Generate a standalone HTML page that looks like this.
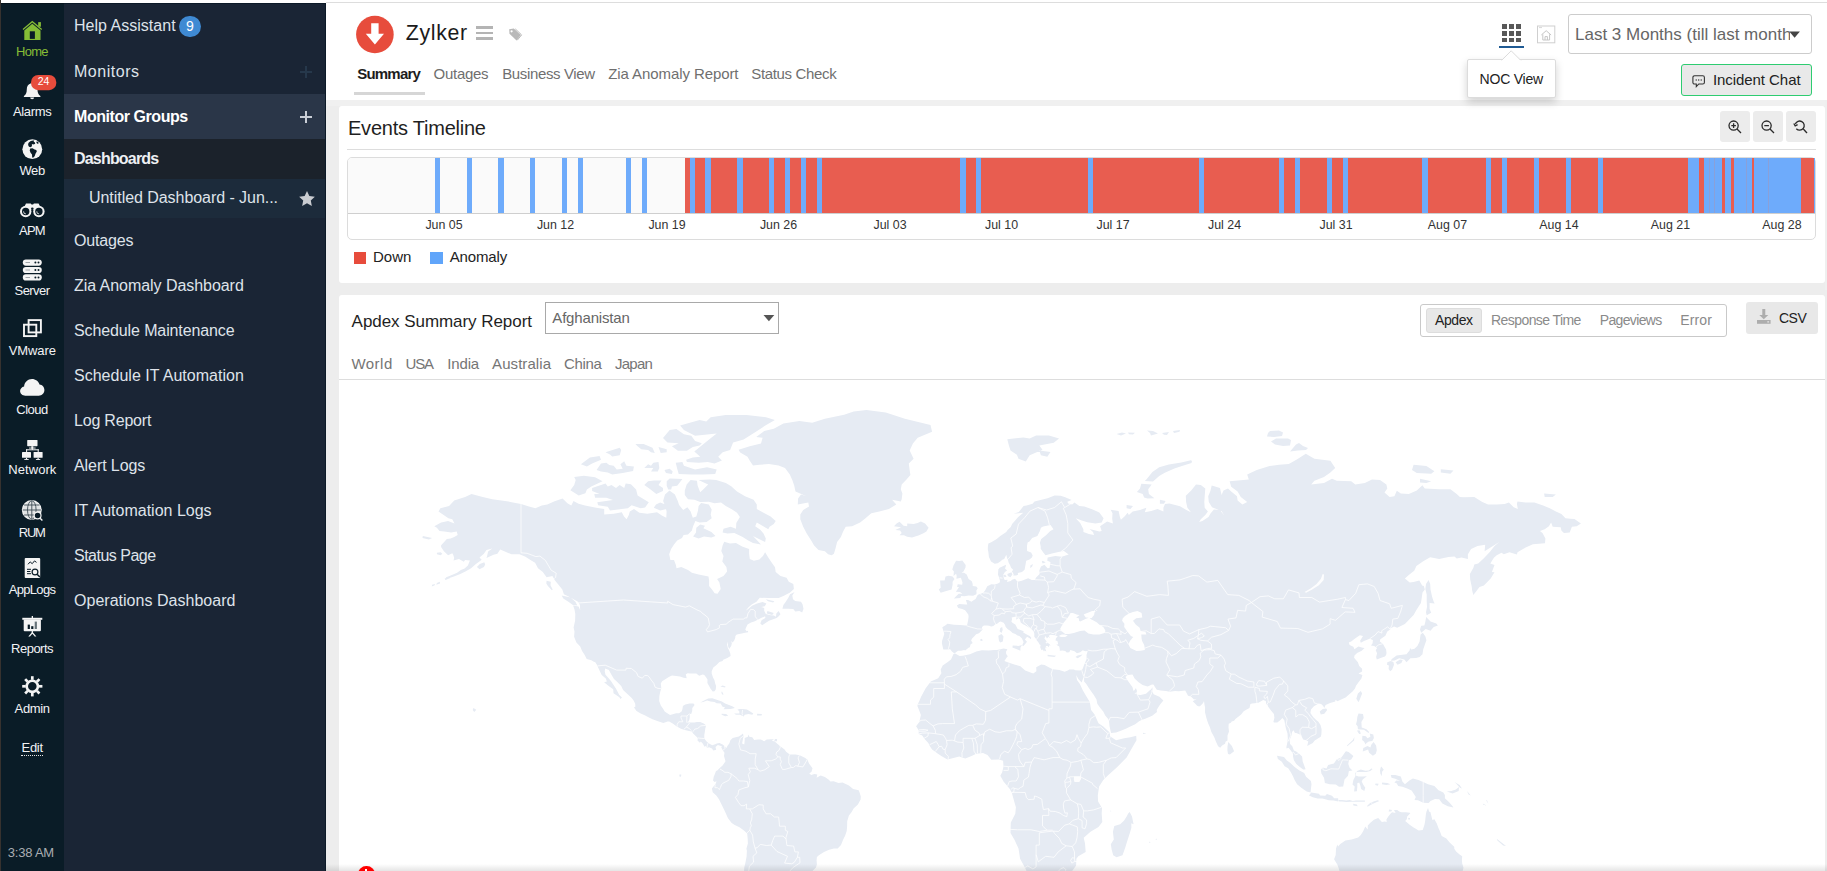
<!DOCTYPE html>
<html><head><meta charset="utf-8"><title>Zylker - Summary</title>
<style>
html,body{margin:0;padding:0;}
body{width:1827px;height:871px;overflow:hidden;position:relative;background:#ededed;font-family:"Liberation Sans",sans-serif;}
.a{position:absolute;box-sizing:border-box;}
.t{position:absolute;white-space:nowrap;font-family:"Liberation Sans",sans-serif;}
svg{position:absolute;overflow:visible;}
</style></head><body>
<div class="a" style="left:0px;top:0px;width:1827px;height:3px;background:#ffffff;"></div>
<div class="a" style="left:326px;top:2px;width:1501px;height:1px;background:#dddddd;"></div>
<div class="a" style="left:326px;top:3px;width:1501px;height:97px;background:#ffffff;"></div>
<div class="a" style="left:0px;top:0px;width:1px;height:871px;background:#37322f;"></div>
<div class="a" style="left:1px;top:3px;width:63px;height:868px;background:#0a1c27;"></div>
<div class="a" style="left:64px;top:3px;width:262px;height:868px;background:#1a2535;border-top:1px solid #0c1a28;border-right:1px solid #0c1a28;"></div>
<div class="a" style="left:1px;top:3px;width:63px;height:1px;background:#06141d;"></div>
<div class="a" style="left:64px;top:94px;width:261px;height:45px;background:#2a3648;"></div>
<div class="a" style="left:64px;top:139px;width:261px;height:40px;background:#1b222b;"></div>
<div class="a" style="left:64px;top:179px;width:261px;height:39px;background:#1c2b3b;"></div>
<span class="t" style="left:74.00px;top:14.76px;font-size:16px;line-height:21px;color:#dfe3ea;letter-spacing:0.017px;">Help Assistant</span>
<div class="a" style="left:179px;top:15.5px;width:21.5px;height:21.5px;border-radius:50%;background:#3f8ad3;"></div>
<span class="t" style="left:185.91px;top:17.45px;font-size:14px;line-height:18px;color:#ffffff;">9</span>
<span class="t" style="left:74.00px;top:60.96px;font-size:16px;line-height:21px;color:#dfe3ea;letter-spacing:0.520px;">Monitors</span>
<svg style="left:300px;top:66px" width="12" height="12"><path d="M6 0v12M0 6h12" stroke="#26384b" stroke-width="2" fill="none"/></svg>
<span class="t" style="left:74.00px;top:105.96px;font-size:16px;line-height:21px;color:#ffffff;letter-spacing:-0.445px;font-weight:bold;">Monitor Groups</span>
<svg style="left:300px;top:111px" width="12" height="12"><path d="M6 0v12M0 6h12" stroke="#c9ced6" stroke-width="2" fill="none"/></svg>
<span class="t" style="left:74.00px;top:147.66px;font-size:16px;line-height:21px;color:#eef0f3;letter-spacing:-0.807px;font-weight:bold;">Dashboards</span>
<span class="t" style="left:89.00px;top:186.86px;font-size:16px;line-height:21px;color:#dfe3ea;letter-spacing:-0.051px;">Untitled Dashboard - Jun...</span>
<svg style="left:299px;top:191px" width="16" height="15" viewBox="0 0 16 15"><path d="M8 0l2.35 5.1 5.5.65-4.07 3.78 1.08 5.47L8 12.3 3.14 15l1.08-5.47L.15 5.75l5.5-.65z" fill="#c9ccd1"/></svg>
<span class="t" style="left:74.00px;top:229.96px;font-size:16px;line-height:21px;color:#dfe3ea;letter-spacing:-0.180px;">Outages</span>
<span class="t" style="left:74.00px;top:274.96px;font-size:16px;line-height:21px;color:#dfe3ea;letter-spacing:-0.048px;">Zia Anomaly Dashboard</span>
<span class="t" style="left:74.00px;top:319.96px;font-size:16px;line-height:21px;color:#dfe3ea;letter-spacing:-0.115px;">Schedule Maintenance</span>
<span class="t" style="left:74.00px;top:364.96px;font-size:16px;line-height:21px;color:#dfe3ea;letter-spacing:0.010px;">Schedule IT Automation</span>
<span class="t" style="left:74.00px;top:409.96px;font-size:16px;line-height:21px;color:#dfe3ea;letter-spacing:-0.196px;">Log Report</span>
<span class="t" style="left:74.00px;top:454.96px;font-size:16px;line-height:21px;color:#dfe3ea;letter-spacing:-0.081px;">Alert Logs</span>
<span class="t" style="left:74.00px;top:499.96px;font-size:16px;line-height:21px;color:#dfe3ea;letter-spacing:0.002px;">IT Automation Logs</span>
<span class="t" style="left:74.00px;top:544.96px;font-size:16px;line-height:21px;color:#dfe3ea;letter-spacing:-0.507px;">Status Page</span>
<span class="t" style="left:74.00px;top:589.96px;font-size:16px;line-height:21px;color:#dfe3ea;letter-spacing:0.021px;">Operations Dashboard</span>
<span class="t" style="left:16.10px;top:43.00px;font-size:13px;line-height:17px;color:#86bd36;letter-spacing:-0.761px;">Home</span>
<span class="t" style="left:12.90px;top:102.70px;font-size:13px;line-height:17px;color:#f2f3f5;letter-spacing:-0.329px;">Alarms</span>
<span class="t" style="left:19.45px;top:161.60px;font-size:13px;line-height:17px;color:#f2f3f5;letter-spacing:-0.397px;">Web</span>
<span class="t" style="left:18.90px;top:221.60px;font-size:13px;line-height:17px;color:#f2f3f5;letter-spacing:-0.685px;">APM</span>
<span class="t" style="left:14.55px;top:281.90px;font-size:13px;line-height:17px;color:#f2f3f5;letter-spacing:-0.557px;">Server</span>
<span class="t" style="left:8.65px;top:341.60px;font-size:13px;line-height:17px;color:#f2f3f5;letter-spacing:-0.077px;">VMware</span>
<span class="t" style="left:16.25px;top:400.50px;font-size:13px;line-height:17px;color:#f2f3f5;letter-spacing:-0.467px;">Cloud</span>
<span class="t" style="left:8.25px;top:460.70px;font-size:13px;line-height:17px;color:#f2f3f5;letter-spacing:0.065px;">Network</span>
<span class="t" style="left:18.65px;top:523.70px;font-size:13px;line-height:17px;color:#f2f3f5;letter-spacing:-1.150px;">RUM</span>
<span class="t" style="left:8.65px;top:580.70px;font-size:13px;line-height:17px;color:#f2f3f5;letter-spacing:-0.671px;">AppLogs</span>
<span class="t" style="left:11.05px;top:640.00px;font-size:13px;line-height:17px;color:#f2f3f5;letter-spacing:-0.502px;">Reports</span>
<span class="t" style="left:14.55px;top:699.70px;font-size:13px;line-height:17px;color:#f2f3f5;letter-spacing:-0.339px;">Admin</span>
<span class="t" style="left:21.55px;top:738.70px;font-size:13px;line-height:17px;color:#f2f3f5;letter-spacing:-0.300px;">Edit</span>
<div class="a" style="left:21px;top:755px;width:22px;height:0;border-top:1px dotted #e6e6e6;"></div>
<span class="t" style="left:7.80px;top:844.00px;font-size:13px;line-height:17px;color:#a9adb2;letter-spacing:-0.216px;">3:38 AM</span>
<svg style="left:0;top:0" width="64" height="871" viewBox="0 0 64 871">
<!-- home -->
<g fill="#86bd36" stroke="none">
<path d="M22.6 28.9 L32.3 20.7 L42.1 28.9 L41.3 29.9 L32.3 22.4 L23.4 29.9 Z"/>
<path d="M24.3 30.4 L32.3 23.8 L40.5 30.4 V40 H24.3 Z"/>
<rect x="38.2" y="22.1" width="2.7" height="4.6"/>
<rect x="29.8" y="31.3" width="5.1" height="7.6" fill="#0a1c27"/>
</g>
<!-- bell -->
<g fill="#f4f4f4">
<path d="M32.1 82.3c.9 0 1.4.6 1.4 1.3 2.6.7 4 2.9 4 5.6 0 3.600 1 5.400 2.900 6.900v.8H23.900v-.8c1.900-1.500 2.900-3.300 2.900-6.900 0-2.700 1.400-4.900 4-5.600 0-.7.500-1.300 1.300-1.300z"/>
<path d="M30.200 97.500h3.900c0 1-.9 1.700-1.950 1.700s-1.950-.7-1.950-1.700z"/>
</g>
<rect x="31" y="75" width="25.300" height="15.200" rx="7.200" fill="#e74c3c"/>
<!-- web globe -->
<circle cx="32.3" cy="149.2" r="9.900" fill="#f4f4f4"/>
<g fill="#0a1c27">
<path d="M30.300 141.200c1.300-.5 2.600-.7 3.900-.5l-.6 1.300 1.300.2.300 1.500-1.600.8-.9-.6-1 .9.400 1.300-1.400 1.100-1.700-.4-.9-1.900.3-1.900z"/>
<path d="M36.800 141.300l1.600.9.200 1.200-1.300.3-.9-1z"/>
<path d="M30.200 148.600l2.300-.4 2.100 1.300 1.700.4.500 1.700-1.200 1.900-1 2.700-1.500 1.600-.9-.3-.2-2.900-1.400-1.900-.9-2.300z"/>
</g>
<!-- apm binoculars -->
<g>
<path d="M26.000 203.400h4.700l.8 1h1.600l.8-1h4.700l3.300 6.500H22.700z" fill="#f4f4f4"/>
<circle cx="25.700" cy="211.500" r="5.700" fill="#f4f4f4"/><circle cx="38.900" cy="211.500" r="5.700" fill="#f4f4f4"/>
<circle cx="25.700" cy="211.500" r="3.700" fill="#0a1c27"/><circle cx="38.900" cy="211.500" r="3.700" fill="#0a1c27"/>
<circle cx="32.300" cy="208.700" r="1.300" fill="#0a1c27"/>
<path d="M23.600 211.300a2.300 2.300 0 0 0 2.300 2.600" stroke="#f4f4f4" stroke-width=".8" fill="none"/>
<path d="M36.800 211.300a2.300 2.300 0 0 0 2.300 2.600" stroke="#f4f4f4" stroke-width=".8" fill="none"/>
</g>
<!-- server -->
<g fill="#f4f4f4">
<rect x="22.800" y="259.500" width="19" height="6.200" rx="3.100"/><rect x="22.800" y="266.900" width="19" height="6.200" rx="3.100"/><rect x="22.800" y="274.300" width="19" height="6.200" rx="3.100"/>
</g>
<g fill="#0a1c27">
<circle cx="35.400" cy="262.600" r="1"/><circle cx="38.500" cy="262.600" r="1"/><rect x="25.500" y="262.200" width="4.500" height=".8" opacity=".45"/>
<circle cx="35.400" cy="270" r="1"/><circle cx="38.500" cy="270" r="1"/><rect x="25.500" y="269.600" width="4.500" height=".8" opacity=".45"/>
<circle cx="35.400" cy="277.400" r="1"/><circle cx="38.500" cy="277.400" r="1"/><rect x="25.500" y="277" width="4.500" height=".8" opacity=".45"/>
</g>
<!-- vmware -->
<g fill="none" stroke="#f4f4f4" stroke-width="1.900">
<rect x="28.600" y="320.100" width="12.300" height="12.300"/>
<rect x="24" y="324.700" width="12.300" height="11.400"/>
</g>
<!-- cloud -->
<path d="M25.300 395.800c-2.900 0-5.200-2.100-5.200-4.700 0-2.300 1.700-4.100 4-4.600.3-4.100 3.700-7.400 7.900-7.400 3.500 0 6.500 2.300 7.500 5.500 2.800.3 4.900 2.600 4.900 5.500 0 3.100-2.500 5.700-5.700 5.700z" fill="#f4f4f4"/>
<!-- network -->
<g fill="#f4f4f4">
<rect x="27.200" y="440" width="10.300" height="6.200" rx=".6"/>
<rect x="31.300" y="446.200" width="2" height="2.500"/><rect x="29" y="447.600" width="6.600" height=".9"/>
<rect x="26.100" y="449.300" width="12.600" height="1"/><rect x="26.100" y="449.300" width="1" height="2.700"/><rect x="37.700" y="449.300" width="1" height="2.700"/><rect x="31.800" y="448" width="1" height="2"/>
<rect x="22" y="452" width="9" height="5.800" rx=".6"/><rect x="33.600" y="452" width="9" height="5.800" rx=".6"/>
<rect x="25.900" y="457.800" width="1.200" height="1.500"/><rect x="24.300" y="459" width="4.400" height=".9"/>
<rect x="37.500" y="457.800" width="1.200" height="1.500"/><rect x="35.900" y="459" width="4.400" height=".9"/>
</g>
<!-- rum -->
<g fill="none" stroke="#f4f4f4" stroke-width="1.300">
<circle cx="31.800" cy="510" r="9.300" fill="#f4f4f4" fill-opacity=".92"/>
</g>
<g fill="none" stroke="#0a1c27" stroke-width=".9" opacity=".75">
<ellipse cx="31.800" cy="510" rx="4.300" ry="9.300"/><path d="M31.800 500.700v18.600M22.700 510h18.200M24 505h15.600M24 515h15.600"/>
</g>
<circle cx="37.600" cy="515.500" r="3.400" fill="#0a1c27" stroke="#f4f4f4" stroke-width="1.200"/>
<path d="M40.100 518.200l2.300 2.300" stroke="#f4f4f4" stroke-width="1.400"/>
<!-- applogs -->
<rect x="24.700" y="558" width="15.500" height="20" rx="1" fill="#f4f4f4"/>
<g fill="none" stroke="#0a1c27" stroke-width="1">
<path d="M28 564.300l2.200-2.400 2 1.800 2.300-2.800 2 1.500"/>
<path d="M27 569.300h4M27 571.500h3.400M27 573.700h4"/>
<circle cx="35" cy="572" r="2.900" stroke-width="1.200"/><path d="M37.100 574.200l2.800 2.900" stroke-width="1.500"/>
</g>
<!-- reports -->
<g fill="#f4f4f4">
<rect x="22.300" y="617.800" width="20" height="2"/><rect x="31.700" y="616" width="1.300" height="2.200"/>
<rect x="23.700" y="619.500" width="17.200" height="11.700" rx="1"/>
<rect x="31.700" y="631" width="1.300" height="2.500"/>
<path d="M28.300 636.600l3.600-4.300h.9l3.600 4.300h-1.700l-2.350-2.900-2.350 2.900z"/>
</g>
<g fill="#0a1c27"><rect x="27.700" y="624.600" width="2.200" height="4.400"/><rect x="31.200" y="626.200" width="2.200" height="2.800"/><rect x="34.700" y="621.600" width="2.200" height="7.400" opacity=".6"/></g>
<!-- admin gear -->
<g transform="translate(32.300 686.300)">
<circle r="5.600" fill="none" stroke="#f4f4f4" stroke-width="2.600"/>
<g stroke="#f4f4f4" stroke-width="2.700" stroke-linecap="butt">
<path d="M0 -6.500V-10.100"/><path d="M0 6.500V10.100"/><path d="M-6.500 0H-10.100"/><path d="M6.500 0H10.100"/>
<path d="M4.600 -4.600L7.150 -7.150"/><path d="M-4.600 -4.600L-7.150 -7.150"/><path d="M4.600 4.600L7.150 7.150"/><path d="M-4.600 4.600L-7.150 7.150"/>
</g></g>
</svg>
<span class="t" style="left:37.76px;top:74.46px;font-size:10.5px;line-height:14px;color:#ffffff;">24</span>
<svg style="left:355px;top:15px" width="40" height="40" viewBox="0 0 40 40">
<circle cx="19.900" cy="19.500" r="18.800" fill="#e74c3c"/>
<path d="M16.200 8.200h7.400v10.600h5.400L19.900 29.600 10.800 18.800h5.400z" fill="#ffffff"/></svg>
<span class="t" style="left:405.80px;top:18.82px;font-size:21.3px;line-height:28px;color:#1b1b1b;letter-spacing:0.664px;">Zylker</span>
<div class="a" style="left:476px;top:26px;width:17px;height:2.7px;background:#b4b4b4;"></div>
<div class="a" style="left:476px;top:31.5px;width:17px;height:2.7px;background:#b4b4b4;"></div>
<div class="a" style="left:476px;top:37px;width:17px;height:2.7px;background:#b4b4b4;"></div>
<svg style="left:508px;top:27px" width="15" height="15" viewBox="0 0 15 15">
<path d="M1.200 2.300l4.600-.9 7 6.700-4.300 5.300-7-6.700z" fill="#b9b9b9"/>
<path d="M7.300 1.900l6.300 6-4.300 5.300" fill="none" stroke="#b9b9b9" stroke-width="1"/>
<circle cx="3.600" cy="4.300" r="1.100" fill="#ffffff"/></svg>
<span class="t" style="left:357.20px;top:63.60px;font-size:15px;line-height:20px;color:#1d1d1d;letter-spacing:-0.778px;font-weight:bold;">Summary</span>
<span class="t" style="left:433.60px;top:63.60px;font-size:15px;line-height:20px;color:#6f6f6f;letter-spacing:-0.283px;">Outages</span>
<span class="t" style="left:502.20px;top:63.60px;font-size:15px;line-height:20px;color:#6f6f6f;letter-spacing:-0.360px;">Business View</span>
<span class="t" style="left:608.20px;top:63.60px;font-size:15px;line-height:20px;color:#6f6f6f;letter-spacing:-0.084px;">Zia Anomaly Report</span>
<span class="t" style="left:751.30px;top:63.60px;font-size:15px;line-height:20px;color:#6f6f6f;letter-spacing:-0.349px;">Status Check</span>
<div class="a" style="left:354px;top:92px;width:71px;height:3px;background:#d6d6d6;"></div>
<div class="a" style="left:1501.5px;top:24.3px;width:5px;height:4.8px;background:#585858;"></div>
<div class="a" style="left:1508.5px;top:24.3px;width:5px;height:4.8px;background:#585858;"></div>
<div class="a" style="left:1515.5px;top:24.3px;width:5px;height:4.8px;background:#585858;"></div>
<div class="a" style="left:1501.5px;top:31.0px;width:5px;height:4.8px;background:#585858;"></div>
<div class="a" style="left:1508.5px;top:31.0px;width:5px;height:4.8px;background:#585858;"></div>
<div class="a" style="left:1515.5px;top:31.0px;width:5px;height:4.8px;background:#585858;"></div>
<div class="a" style="left:1501.5px;top:37.7px;width:5px;height:4.8px;background:#585858;"></div>
<div class="a" style="left:1508.5px;top:37.7px;width:5px;height:4.8px;background:#585858;"></div>
<div class="a" style="left:1515.5px;top:37.7px;width:5px;height:4.8px;background:#585858;"></div>
<div class="a" style="left:1498.7px;top:46px;width:25px;height:2px;background:#1f5a93;"></div>
<svg style="left:1537px;top:25px" width="19" height="19" viewBox="0 0 19 19">
<rect x=".5" y="1" width="17.300" height="16.800" fill="#ffffff" stroke="#cfcfcf" stroke-width="1"/>
<path d="M2 2.600h3" stroke="#d8d8d8" stroke-width="1"/>
<path d="M4.300 10l4.900-4.300 4.900 4.300M5.800 9.300v5.700h6.800V9.300M8 15v-3.400h2.400V15" fill="none" stroke="#c6c6c6" stroke-width="1"/></svg>
<div class="a" style="left:1568px;top:14px;width:244px;height:40px;background:#ffffff;border:1px solid #cccccc;border-radius:3px;"></div>
<div class="a" style="left:1575px;top:20px;width:214.600px;height:30px;overflow:hidden;"><span class="t" style="left:0;top:0;font-size:17px;line-height:30px;color:#666666;letter-spacing:0px;">Last 3 Months (till last month)</span></div>
<svg style="left:1789px;top:31px" width="12" height="8"><path d="M.3.600h10.600L5.600 6.800z" fill="#444444"/></svg>
<div class="a" style="left:1467px;top:59px;width:88.500px;height:39px;background:#fff;border:1px solid #dcdcdc;border-radius:2px;box-shadow:0 4px 8px rgba(0,0,0,.18);z-index:5;"></div>
<svg style="left:1500px;top:49px;z-index:6" width="24" height="13" viewBox="0 0 24 13"><path d="M1.500 11.500L11.200 1.800 20.900 11.500" fill="#ffffff" stroke="#dcdcdc" stroke-width="1"/><path d="M1.500 12.300h19.400" stroke="#ffffff" stroke-width="2"/></svg>
<span class="t" style="left:1479.60px;top:70.25px;font-size:14px;line-height:18px;color:#222222;letter-spacing:-0.218px;z-index:7;">NOC View</span>
<div class="a" style="left:1681px;top:64px;width:131px;height:32px;background:#e9e9e9;border:1px solid #2ecc71;border-radius:3px;"></div>
<svg style="left:1692px;top:75px" width="14" height="13" viewBox="0 0 14 13"><path d="M2.500.800h8.300c.9 0 1.600.7 1.600 1.600v5c0 .9-.7 1.600-1.600 1.600H6.800L4.300 11.700V9H2.500C1.600 9 .9 8.300.9 7.400v-5c0-.9.700-1.600 1.600-1.600z" fill="none" stroke="#333" stroke-width="1.100"/><circle cx="4.200" cy="5" r=".7" fill="#333"/><circle cx="6.700" cy="5" r=".7" fill="#333"/><circle cx="9.200" cy="5" r=".7" fill="#333"/></svg>
<span class="t" style="left:1712.90px;top:69.50px;font-size:15px;line-height:20px;color:#222222;letter-spacing:-0.058px;">Incident Chat</span>
<div class="a" style="left:326px;top:100px;width:1501px;height:6px;background:#f0f0f0;"></div>
<div class="a" style="left:1825px;top:100px;width:2px;height:190px;background:#efefef;"></div>
<div class="a" style="left:339px;top:106px;width:1486px;height:177px;background:#ffffff;border-radius:3px;"></div>
<span class="t" style="left:348.00px;top:114.97px;font-size:20px;line-height:26px;color:#1f1f1f;letter-spacing:-0.227px;">Events Timeline</span>
<div class="a" style="left:347px;top:149px;width:1469px;height:1px;background:#dddddd;"></div>
<div class="a" style="left:1720px;top:111px;width:30px;height:30.5px;background:#ececec;border-radius:3px;"></div>
<div class="a" style="left:1753px;top:111px;width:30px;height:30.5px;background:#ececec;border-radius:3px;"></div>
<div class="a" style="left:1786px;top:111px;width:30px;height:30.5px;background:#ececec;border-radius:3px;"></div>
<svg style="left:1727px;top:119px" width="16" height="16"><circle cx="6.600" cy="6.600" r="4.600" stroke="#2a2a2a" stroke-width="1.300" fill="none"/><path d="M10 10l4 4M4.300 6.600h4.600M6.600 4.300v4.600" stroke="#2a2a2a" stroke-width="1.300" fill="none"/></svg>
<svg style="left:1760px;top:119px" width="16" height="16"><circle cx="6.600" cy="6.600" r="4.600" stroke="#2a2a2a" stroke-width="1.300" fill="none"/><path d="M10 10l4 4M4.300 6.600h4.600" stroke="#2a2a2a" stroke-width="1.300" fill="none"/></svg>
<svg style="left:1793px;top:119px" width="16" height="16"><path d="M3.300 9.800A4.600 4.600 0 1 0 2.300 5" stroke="#2a2a2a" stroke-width="1.300" fill="none"/><path d="M.8 4.500l1.400 2.300 2.400-1.200" stroke="#2a2a2a" stroke-width="1.300" fill="none"/><path d="M10.300 10l3.700 4" stroke="#2a2a2a" stroke-width="1.300" fill="none"/></svg>
<div class="a" style="left:347px;top:157px;width:1469px;height:82.5px;background:#ffffff;border:1px solid #dcdcdc;border-radius:5px;"></div>
<div class="a" style="left:348px;top:158px;width:1467px;height:54.5px;background:#fafafa;border-radius:4px 4px 0 0;"></div>
<div class="a" style="left:348px;top:212.5px;width:1467px;height:1px;background:#cfcfcf;"></div>
<div class="a" style="left:685px;top:158px;width:1130px;height:54.8px;background:#e85d50;"></div>
<div class="a" style="left:434.6px;top:158px;width:5.3px;height:54.8px;background:#6eabfb;"></div>
<div class="a" style="left:466.5px;top:158px;width:5.3px;height:54.8px;background:#6eabfb;"></div>
<div class="a" style="left:498.3px;top:158px;width:5.3px;height:54.8px;background:#6eabfb;"></div>
<div class="a" style="left:530.2px;top:158px;width:5.3px;height:54.8px;background:#6eabfb;"></div>
<div class="a" style="left:562.0px;top:158px;width:5.3px;height:54.8px;background:#6eabfb;"></div>
<div class="a" style="left:578.0px;top:158px;width:5.3px;height:54.8px;background:#6eabfb;"></div>
<div class="a" style="left:625.8px;top:158px;width:5.3px;height:54.8px;background:#6eabfb;"></div>
<div class="a" style="left:641.7px;top:158px;width:5.3px;height:54.8px;background:#6eabfb;"></div>
<div class="a" style="left:689.5px;top:158px;width:5.3px;height:54.8px;background:#6eabfb;"></div>
<div class="a" style="left:705.4px;top:158px;width:5.3px;height:54.8px;background:#6eabfb;"></div>
<div class="a" style="left:737.3px;top:158px;width:5.3px;height:54.8px;background:#6eabfb;"></div>
<div class="a" style="left:769.1px;top:158px;width:5.3px;height:54.8px;background:#6eabfb;"></div>
<div class="a" style="left:785.1px;top:158px;width:5.3px;height:54.8px;background:#6eabfb;"></div>
<div class="a" style="left:801.0px;top:158px;width:5.3px;height:54.8px;background:#6eabfb;"></div>
<div class="a" style="left:816.9px;top:158px;width:5.3px;height:54.8px;background:#6eabfb;"></div>
<div class="a" style="left:960.3px;top:158px;width:5.3px;height:54.8px;background:#6eabfb;"></div>
<div class="a" style="left:976.2px;top:158px;width:5.3px;height:54.8px;background:#6eabfb;"></div>
<div class="a" style="left:1087.7px;top:158px;width:5.3px;height:54.8px;background:#6eabfb;"></div>
<div class="a" style="left:1199.2px;top:158px;width:5.3px;height:54.8px;background:#6eabfb;"></div>
<div class="a" style="left:1278.9px;top:158px;width:5.3px;height:54.8px;background:#6eabfb;"></div>
<div class="a" style="left:1294.8px;top:158px;width:5.3px;height:54.8px;background:#6eabfb;"></div>
<div class="a" style="left:1326.7px;top:158px;width:5.3px;height:54.8px;background:#6eabfb;"></div>
<div class="a" style="left:1342.6px;top:158px;width:5.3px;height:54.8px;background:#6eabfb;"></div>
<div class="a" style="left:1422.3px;top:158px;width:5.3px;height:54.8px;background:#6eabfb;"></div>
<div class="a" style="left:1486.0px;top:158px;width:5.3px;height:54.8px;background:#6eabfb;"></div>
<div class="a" style="left:1501.9px;top:158px;width:5.3px;height:54.8px;background:#6eabfb;"></div>
<div class="a" style="left:1533.8px;top:158px;width:5.3px;height:54.8px;background:#6eabfb;"></div>
<div class="a" style="left:1565.6px;top:158px;width:5.3px;height:54.8px;background:#6eabfb;"></div>
<div class="a" style="left:1597.5px;top:158px;width:5.3px;height:54.8px;background:#6eabfb;"></div>
<div class="a" style="left:1687.7px;top:158px;width:11.0px;height:54.8px;background:#6eabfb;"></div>
<div class="a" style="left:1703.8px;top:158px;width:18.2px;height:54.8px;background:#6eabfb;"></div>
<div class="a" style="left:1725.3px;top:158px;width:5.6px;height:54.8px;background:#6eabfb;"></div>
<div class="a" style="left:1734.4px;top:158px;width:17.6px;height:54.8px;background:#6eabfb;"></div>
<div class="a" style="left:1754px;top:158px;width:47.3px;height:54.8px;background:#6eabfb;"></div>
<div class="a" style="left:1813.7px;top:158px;width:1.3px;height:54.8px;background:#6eabfb;"></div>
<div class="a" style="left:1708.5px;top:158px;width:0.6px;height:54.8px;background:#8aa0d8;"></div>
<div class="a" style="left:1714.3px;top:158px;width:0.6px;height:54.8px;background:#8aa0d8;"></div>
<div class="a" style="left:1746.3px;top:158px;width:0.6px;height:54.8px;background:#8aa0d8;"></div>
<div class="a" style="left:1767.5px;top:158px;width:0.6px;height:54.8px;background:#8aa0d8;"></div>
<span class="t" style="left:425.39px;top:216.90px;font-size:12.4px;line-height:16px;color:#333333;">Jun 05</span>
<span class="t" style="left:536.89px;top:216.90px;font-size:12.4px;line-height:16px;color:#333333;">Jun 12</span>
<span class="t" style="left:648.39px;top:216.90px;font-size:12.4px;line-height:16px;color:#333333;">Jun 19</span>
<span class="t" style="left:759.89px;top:216.90px;font-size:12.4px;line-height:16px;color:#333333;">Jun 26</span>
<span class="t" style="left:873.46px;top:216.90px;font-size:12.4px;line-height:16px;color:#333333;">Jul 03</span>
<span class="t" style="left:984.96px;top:216.90px;font-size:12.4px;line-height:16px;color:#333333;">Jul 10</span>
<span class="t" style="left:1096.46px;top:216.90px;font-size:12.4px;line-height:16px;color:#333333;">Jul 17</span>
<span class="t" style="left:1207.96px;top:216.90px;font-size:12.4px;line-height:16px;color:#333333;">Jul 24</span>
<span class="t" style="left:1319.46px;top:216.90px;font-size:12.4px;line-height:16px;color:#333333;">Jul 31</span>
<span class="t" style="left:1427.85px;top:216.90px;font-size:12.4px;line-height:16px;color:#333333;">Aug 07</span>
<span class="t" style="left:1539.35px;top:216.90px;font-size:12.4px;line-height:16px;color:#333333;">Aug 14</span>
<span class="t" style="left:1650.85px;top:216.90px;font-size:12.4px;line-height:16px;color:#333333;">Aug 21</span>
<span class="t" style="left:1762.35px;top:216.90px;font-size:12.4px;line-height:16px;color:#333333;">Aug 28</span>
<div class="a" style="left:354px;top:252px;width:12px;height:12px;background:#e74c3c;"></div>
<span class="t" style="left:373.00px;top:246.70px;font-size:15px;line-height:20px;color:#222222;letter-spacing:-0.018px;">Down</span>
<div class="a" style="left:430px;top:252px;width:13px;height:12px;background:#60a5fa;"></div>
<span class="t" style="left:449.70px;top:246.70px;font-size:15px;line-height:20px;color:#222222;letter-spacing:-0.144px;">Anomaly</span>
<div class="a" style="left:339px;top:295px;width:1486px;height:580px;background:#ffffff;border-radius:3px 3px 0 0;"></div>
<span class="t" style="left:351.60px;top:310.71px;font-size:17px;line-height:22px;color:#1f1f1f;letter-spacing:-0.053px;">Apdex Summary Report</span>
<div class="a" style="left:545px;top:302px;width:234px;height:32px;background:#ffffff;border:1px solid #a9a9a9;"></div>
<span class="t" style="left:552.30px;top:307.90px;font-size:15px;line-height:20px;color:#666666;letter-spacing:-0.173px;">Afghanistan</span>
<svg style="left:763px;top:314px" width="12" height="8"><path d="M.5.900h10.800L5.900 7.300z" fill="#555555"/></svg>
<span class="t" style="left:351.40px;top:353.70px;font-size:15px;line-height:20px;color:#757575;letter-spacing:0.501px;">World</span>
<span class="t" style="left:405.60px;top:353.70px;font-size:15px;line-height:20px;color:#757575;letter-spacing:-1.270px;">USA</span>
<span class="t" style="left:447.30px;top:353.70px;font-size:15px;line-height:20px;color:#757575;letter-spacing:-0.159px;">India</span>
<span class="t" style="left:492.10px;top:353.70px;font-size:15px;line-height:20px;color:#757575;letter-spacing:0.065px;">Australia</span>
<span class="t" style="left:563.90px;top:353.70px;font-size:15px;line-height:20px;color:#757575;letter-spacing:-0.303px;">China</span>
<span class="t" style="left:615.00px;top:353.70px;font-size:15px;line-height:20px;color:#757575;letter-spacing:-0.744px;">Japan</span>
<div class="a" style="left:339px;top:379px;width:1486px;height:1px;background:#dddddd;"></div>
<div class="a" style="left:1420px;top:304px;width:307px;height:33px;background:#ffffff;border:1px solid #c9c9c9;border-radius:3px;"></div>
<div class="a" style="left:1426px;top:308.4px;width:56px;height:24.5px;background:#e8e8e8;border:1px solid #dddddd;border-radius:3px;"></div>
<span class="t" style="left:1435.00px;top:310.85px;font-size:14px;line-height:18px;color:#222222;letter-spacing:-0.397px;">Apdex</span>
<span class="t" style="left:1491.10px;top:310.85px;font-size:14px;line-height:18px;color:#8a8a8a;letter-spacing:-0.581px;">Response Time</span>
<span class="t" style="left:1599.80px;top:310.85px;font-size:14px;line-height:18px;color:#8a8a8a;letter-spacing:-0.663px;">Pageviews</span>
<span class="t" style="left:1680.20px;top:310.85px;font-size:14px;line-height:18px;color:#8a8a8a;letter-spacing:0.173px;">Error</span>
<div class="a" style="left:1746px;top:302px;width:72px;height:31.6px;background:#e8e8e8;border-radius:3px;"></div>
<svg style="left:1756px;top:308px" width="16" height="17" viewBox="0 0 16 17"><path d="M6.300 1h3v6h3L7.800 11.300 3.300 7h3z" fill="#adadad"/><path d="M1 12h13.600v3.800H1z" fill="#adadad"/><rect x="11.300" y="13.300" width="1.800" height="1.200" fill="#e8e8e8"/></svg>
<span class="t" style="left:1779.00px;top:309.05px;font-size:14px;line-height:18px;color:#222222;letter-spacing:-0.492px;">CSV</span>
<div class="a" style="left:358px;top:866px;width:16.500px;height:16.500px;border-radius:50%;background:#ff0000;z-index:3"></div>
<div class="a" style="left:365.300px;top:868.500px;width:2px;height:4px;background:#fff;z-index:4"></div>
<div class="a" style="left:326px;top:864px;width:1501px;height:7px;background:linear-gradient(to bottom,rgba(0,0,0,0),rgba(0,0,0,.10));z-index:2"></div>
<svg style="left:0;top:0;z-index:1" width="1827" height="871" viewBox="0 0 1827 871">
<defs><clipPath id="mc"><rect x="339" y="380" width="1486" height="491"/></clipPath></defs>
<g clip-path="url(#mc)">
<path d="M434.3 526.2L441.1 522.5L448.1 520.9L454.5 523.5L452.3 519.3L448.4 518.2L438.5 511.4L440.4 508.3L449.1 506.1L454.2 500.4L465.1 496.9L471.5 494.1L482.7 496.9L492.3 499.2L505.0 500.9L513.0 502.4L521.0 504.1L529.0 506.6L535.4 508.3L541.8 505.5L547.3 504.4L554.6 501.2L562.6 498.6L567.4 503.2L571.3 505.5L573.5 500.9L578.6 503.8L585.0 505.5L596.2 507.7L604.2 508.9L604.2 514.4L613.8 513.8L621.8 512.2L624.0 516.6L626.6 519.3L628.8 514.9L629.8 511.6L634.0 508.9L639.4 512.7L647.4 513.8L657.0 512.2L661.8 515.5L666.3 517.7L666.6 511.6L665.3 506.1L663.1 500.9L665.0 494.5L669.5 490.4L674.9 494.5L677.8 500.9L679.1 504.9L683.2 510.0L687.4 507.2L690.6 511.6L692.8 517.7L696.3 516.6L697.9 511.1L698.6 506.1L701.1 502.9L708.8 504.4L711.7 509.4L710.7 514.4L711.7 518.2L706.6 521.9L699.5 522.5L695.4 521.1L693.1 526.2L691.9 530.4L688.0 534.5L683.6 535.0L682.0 538.0L677.2 540.5L674.0 544.5L671.1 548.9L669.2 554.2L670.4 559.9L674.0 560.1L675.9 565.0L676.5 568.2L681.3 566.9L688.0 570.1L691.9 572.8L698.6 574.6L708.5 576.4L709.1 580.4L709.1 586.0L712.0 589.5L714.6 593.3L717.5 593.8L720.7 589.1L719.4 582.6L717.1 579.0L723.5 575.9L727.1 571.4L726.4 566.9L722.3 561.5L723.5 556.1L721.3 550.9L722.6 545.5L724.2 541.8L729.9 543.5L736.0 543.0L742.1 546.5L749.1 548.9L749.1 553.7L749.8 559.0L753.9 560.8L759.4 559.4L762.9 556.1L765.1 552.3L768.3 557.5L771.8 562.7L775.0 567.3L775.7 571.9L780.5 575.9L786.6 577.7L788.8 581.7L793.3 583.9L793.9 589.1L790.1 592.5L783.4 595.9L778.6 598.0L769.0 598.0L759.7 597.8L756.5 601.7L752.0 604.2L748.8 607.1L745.6 610.7L748.2 609.1L752.0 605.8L757.1 603.4L762.6 602.1L766.4 603.6L764.8 606.2L761.0 607.1L764.2 607.9L764.2 610.7L765.8 613.9L770.6 615.3L773.8 615.5L776.0 616.7L776.3 613.5L778.6 611.1L780.5 614.3L778.2 616.7L776.6 618.1L769.0 620.7L764.8 623.4L762.2 625.2L760.3 623.4L761.6 620.3L765.4 617.9L765.1 616.3L761.0 618.1L757.8 619.7L754.2 621.5L751.0 622.6L747.5 624.4L745.9 628.1L745.3 629.6L746.6 631.2L747.9 630.8L748.2 632.3L745.0 632.7L741.8 633.5L736.7 634.6L735.4 636.1L735.2 638.0L734.1 640.7L732.5 642.4L730.6 640.7L731.9 642.9L731.2 645.9L729.1 649.0L728.0 645.9L728.0 641.4L727.1 644.8L728.0 648.5L729.0 650.0L730.3 653.6L730.6 656.0L727.4 658.0L723.2 659.8L722.6 661.0L719.4 661.9L716.5 665.0L713.3 667.6L711.7 671.2L711.7 673.6L713.0 677.5L714.4 680.1L715.2 683.4L716.1 686.1L715.8 689.3L714.6 691.3L712.7 691.4L710.4 688.5L709.1 686.1L707.4 683.0L707.5 679.6L706.4 677.8L704.3 675.0L702.7 674.5L699.2 675.7L696.3 673.6L692.8 673.5L690.3 673.6L687.7 673.3L685.8 674.3L686.4 677.1L686.7 678.2L683.6 677.8L680.0 676.4L676.2 676.1L672.0 675.6L668.8 677.1L665.3 679.2L662.1 681.3L660.8 683.4L661.3 688.5L660.2 691.9L659.4 696.0L659.2 701.1L660.8 705.4L663.1 708.8L664.7 711.4L666.9 713.1L670.1 714.9L673.6 713.9L676.2 713.2L679.1 713.2L681.6 711.4L682.4 709.3L682.9 705.9L685.3 704.4L689.6 703.6L693.5 703.4L694.6 704.9L692.3 708.1L692.2 711.1L691.2 714.1L689.6 713.7L689.8 717.0L689.3 720.0L687.7 722.5L690.7 722.5L694.4 722.6L697.0 722.0L700.2 722.0L703.7 723.6L706.1 725.3L705.3 728.5L704.8 732.1L704.3 735.0L704.3 738.4L706.6 741.5L709.0 743.6L712.3 745.2L715.2 744.2L716.8 743.4L719.5 743.0L722.6 744.4L724.5 745.9L725.1 748.3L722.9 750.5L721.3 747.6L721.9 746.3L717.8 744.9L715.5 747.0L716.2 749.7L713.3 750.4L712.0 748.6L709.1 747.3L707.0 747.9L705.9 746.0L704.5 746.7L702.7 743.4L700.8 741.5L699.9 742.8L697.5 740.5L697.8 738.6L697.3 737.5L693.1 733.4L691.9 731.5L689.0 731.1L684.7 730.0L681.0 728.8L676.8 726.6L672.7 723.6L669.2 721.5L667.6 721.5L663.4 723.0L658.0 721.3L652.5 719.2L648.0 717.0L645.2 715.6L640.7 713.4L636.5 711.1L634.0 707.4L635.4 706.6L635.2 703.8L633.6 700.4L631.7 698.0L626.6 693.3L623.1 689.9L621.2 686.1L617.3 682.0L614.0 678.9L611.6 675.0L608.9 670.1L605.2 668.5L604.7 671.2L605.5 674.7L608.9 678.4L611.3 681.6L612.9 683.9L615.9 688.5L618.0 692.6L619.1 694.8L622.0 697.4L620.4 699.1L619.4 697.2L613.5 693.3L613.2 689.2L608.7 686.1L604.1 682.2L606.9 681.6L605.8 678.5L601.7 674.9L599.9 671.2L598.1 667.6L597.2 665.2L595.3 662.3L593.3 661.4L591.4 660.3L586.7 658.9L584.7 655.1L582.1 651.1L580.2 646.6L576.4 642.4L574.1 636.7L574.5 631.6L573.6 627.6L575.1 620.7L575.3 614.1L574.5 609.5L573.1 605.5L578.6 606.6L580.2 610.3L579.9 605.0L578.0 601.7L573.5 599.2L568.1 596.3L563.9 594.2L562.3 589.5L558.5 584.7L555.0 580.4L552.4 575.9L546.6 577.3L542.8 571.9L538.0 568.2L535.1 562.7L531.3 560.4L525.0 556.4L519.4 554.2L511.4 554.2L505.4 551.8L500.2 549.4L497.4 553.7L493.5 554.7L486.5 558.0L487.1 555.9L488.1 551.6L492.3 548.4L486.5 549.9L483.9 553.7L479.5 557.5L481.7 559.7L475.3 564.6L471.1 568.2L465.4 571.4L460.3 574.1L453.9 576.4L448.7 578.2L445.2 579.0L446.2 577.3L450.7 575.5L457.1 572.8L460.9 570.1L464.6 568.5L467.9 565.5L469.9 560.4L465.1 559.9L463.8 561.8L459.0 559.0L453.5 560.6L454.2 558.0L453.2 554.7L452.3 553.3L448.1 555.2L443.9 551.3L441.1 547.0L441.1 545.2L444.6 541.5L446.8 539.0L450.7 538.5L454.2 537.0L457.7 535.0L456.7 531.4L451.3 532.4L444.3 531.6L439.5 530.9L436.9 527.8ZM724.5 745.9L726.4 748.1L727.7 745.4L729.3 743.4L730.4 740.2L732.7 738.1L734.7 737.5L738.9 736.5L741.8 734.4L742.9 733.6L743.7 736.0L743.1 738.3L742.1 743.4L744.3 744.4L744.7 739.9L744.7 737.9L747.9 736.7L748.2 734.4L749.4 736.7L752.3 737.3L754.2 739.9L757.8 739.6L760.8 739.6L764.2 741.2L766.7 739.6L771.2 739.2L774.1 739.2L771.8 740.5L775.0 741.8L777.6 744.1L780.2 746.3L784.6 749.6L786.1 751.8L789.8 754.4L795.5 754.5L799.7 755.3L804.8 757.8L807.4 759.5L809.0 763.4L812.5 768.2L811.5 771.7L809.3 773.6L811.2 774.9L814.4 773.9L817.3 774.4L816.6 777.8L820.6 775.5L824.9 777.1L828.8 779.7L830.4 781.6L833.6 781.3L838.5 782.9L842.5 782.6L848.9 785.4L853.1 789.1L858.7 790.3L859.5 792.2L860.8 796.5L860.6 799.4L857.9 804.6L853.6 808.6L851.5 812.2L848.9 815.4L847.2 821.3L847.1 826.7L846.7 831.0L845.1 835.8L843.2 839.4L841.0 845.1L837.7 848.5L833.9 848.5L829.1 849.7L824.0 851.9L818.9 855.3L816.9 857.0L816.6 860.4L816.9 864.2L816.0 867.6L813.1 870.2L811.8 872.5L809.0 877.1L804.2 883.1L742.7 883.1L743.1 877.8L744.0 872.2L744.3 867.3L745.5 862.3L746.6 856.6L746.9 850.7L746.4 848.8L747.9 843.4L747.7 839.1L747.2 833.5L743.9 830.6L739.5 827.2L734.7 824.9L731.7 823.1L728.0 818.2L725.3 812.3L723.9 809.3L720.7 802.8L719.1 799.6L716.3 795.5L712.7 792.3L711.9 788.6L714.9 784.8L715.9 783.2L716.5 781.3L714.6 781.9L713.0 780.6L713.8 776.6L714.6 774.7L716.0 771.0L717.3 770.4L720.0 767.8L722.6 765.6L725.5 761.3L724.0 756.0L724.5 752.8L722.9 750.5ZM866.5 410.0L885.7 412.4L904.9 418.8L930.5 425.0L932.1 431.8L917.7 437.7L912.9 443.5L909.7 450.5L913.6 458.7L908.8 463.4L909.7 470.6L910.4 475.0L906.5 479.4L901.7 484.4L900.8 489.2L902.4 493.4L901.7 499.2L900.8 501.5L892.1 499.8L896.3 504.4L888.9 508.9L879.3 511.6L871.3 513.3L864.9 518.7L860.1 522.5L852.1 526.2L845.7 526.7L842.9 531.9L840.9 537.0L837.1 542.0L835.5 548.4L833.9 553.7L831.7 555.2L828.1 554.2L824.9 551.3L818.5 549.9L814.1 545.5L811.2 540.5L806.7 533.4L803.2 526.7L800.3 519.3L800.3 514.4L803.2 510.0L809.0 506.6L808.3 502.6L797.8 504.4L798.1 498.6L801.0 494.5L806.4 496.3L795.5 491.6L794.2 485.6L792.3 480.0L789.8 474.4L785.0 468.0L778.6 465.4L769.0 464.1L759.4 464.7L753.0 465.4L749.8 460.7L747.5 456.7L740.2 452.6L738.6 449.8L749.8 446.3L761.0 443.5L762.6 437.7L756.2 437.0L764.2 431.1L773.8 428.8L783.4 423.5L799.4 421.1L812.2 422.7L824.9 418.8L844.1 414.8L853.7 411.6ZM920.9 521.4L925.1 523.5L928.6 527.8L926.4 531.4L923.5 533.2L918.4 535.5L912.0 537.5L907.2 536.8L904.0 535.2L899.5 535.2L901.7 532.9L900.1 530.4L895.3 530.1L901.1 527.2L894.0 526.2L896.6 523.5L899.5 521.7L903.6 525.7L907.2 526.2L907.2 523.5L913.6 524.1L917.7 523.0ZM794.6 592.1L792.3 595.4L793.0 599.2L795.2 600.9L801.0 601.7L802.6 604.6L803.5 608.7L802.2 612.5L799.4 611.1L795.2 611.5L793.3 609.1L788.2 608.7L782.4 608.7L783.4 605.0L785.6 602.1L788.2 598.0L790.1 594.2ZM698.6 480.0L709.8 479.4L716.2 480.0L725.8 483.1L731.2 486.2L737.0 491.6L745.0 496.3L753.6 499.8L756.8 504.4L756.8 508.9L762.6 512.2L770.6 516.6L775.7 520.9L773.8 524.1L769.6 526.7L768.3 529.3L763.2 526.2L756.8 522.5L755.2 526.2L760.3 529.8L763.5 533.4L765.8 538.5L765.1 542.0L760.0 539.5L753.0 536.0L756.8 540.0L761.0 544.5L753.0 543.0L748.2 540.5L742.7 537.0L734.4 532.9L727.4 533.4L722.6 532.4L723.5 528.8L730.6 526.7L736.0 528.8L736.3 523.0L739.9 517.1L737.0 512.7L732.2 509.4L725.8 506.1L721.0 502.6L714.6 503.2L708.8 501.8L700.2 502.1L694.4 499.8L688.0 499.2L684.8 495.1L684.8 490.4L686.7 484.4L690.6 480.0L697.0 480.7L697.6 485.6L700.2 492.2L703.4 489.2L708.2 484.4L702.7 481.9ZM700.2 524.6L705.0 525.7L703.4 528.3L711.4 531.9L715.5 536.0L711.4 537.5L704.0 536.5L698.6 538.5L693.1 536.5L696.0 532.4L696.3 527.8ZM660.2 502.6L666.6 504.9L666.6 508.9L660.2 510.5L653.8 507.7L656.0 504.4ZM561.7 595.4L570.6 597.5L575.4 601.7L577.3 605.4L572.9 605.0L568.4 601.7L563.3 598.4ZM546.6 580.8L550.8 581.7L550.5 585.2L552.7 589.5L551.8 590.3L547.9 586.0L546.3 583.4ZM484.3 562.2L485.2 564.6L483.9 566.9L479.5 569.2L476.9 566.9L479.8 564.1ZM440.7 552.3L442.3 553.7L440.7 555.2L436.9 554.2L436.9 552.8ZM422.8 536.0L432.1 538.0L428.9 539.5L422.5 538.0ZM765.8 599.2L774.4 601.3L773.1 602.5L768.0 601.3ZM767.4 611.1L773.8 613.1L772.2 615.1L766.7 613.5ZM700.3 702.4L705.6 699.7L708.2 698.6L712.3 698.2L717.5 700.1L721.9 701.4L725.1 703.4L729.0 705.1L732.8 706.4L734.9 708.1L730.6 709.1L723.5 709.3L725.1 707.4L722.3 706.4L720.7 703.6L716.5 703.3L714.6 701.9L710.4 701.6L707.2 700.4L703.1 702.1ZM739.2 709.1L742.7 709.1L746.9 709.4L749.4 711.1L753.3 713.4L752.3 714.7L748.5 713.9L744.7 714.7L743.7 716.6L739.9 714.7L736.0 714.7L734.1 713.4L739.5 713.6L739.2 711.1L737.3 709.8ZM721.6 713.7L726.1 714.1L728.3 715.7L725.1 716.2L721.6 714.7ZM757.1 713.7L761.9 713.9L761.6 715.4L757.1 715.6ZM775.0 738.9L777.1 738.9L777.0 741.2L774.1 741.2ZM721.9 691.3L723.5 694.3L722.9 695.0L721.3 693.0ZM722.6 685.4L725.5 686.5L725.1 687.5L720.3 686.5ZM679.4 774.6L681.3 774.6L681.0 776.8L679.4 776.5ZM473.4 708.1L476.3 709.8L474.3 712.1L472.7 710.1ZM449.4 577.3L450.3 577.9L445.5 579.9L444.6 578.6ZM439.8 581.7L440.1 583.4L436.3 584.7L436.9 583.0ZM435.0 583.9L434.7 585.2L431.8 586.5L432.1 584.7ZM943.3 649.6L941.9 643.3L942.0 640.9L944.3 634.0L942.3 627.3L945.2 625.4L947.5 623.8L954.0 624.8L959.9 625.0L965.7 625.6L967.1 625.0L968.1 620.5L968.6 616.7L968.3 614.5L965.1 610.3L962.2 609.1L958.2 607.9L956.9 605.6L959.3 604.0L965.7 604.4L967.3 604.4L965.9 600.0L968.1 600.0L971.5 601.7L972.4 600.9L975.6 599.0L977.2 595.7L978.0 594.8L981.4 593.5L983.3 592.7L985.2 590.3L987.3 586.3L991.3 584.3L994.8 584.5L998.0 583.4L999.9 582.3L999.9 580.4L999.0 577.3L998.0 574.8L998.3 569.6L999.6 567.8L1006.0 564.8L1005.8 566.2L1005.0 568.5L1007.1 570.5L1004.9 572.1L1003.3 574.8L1003.8 578.2L1004.7 579.9L1007.6 579.7L1007.0 581.9L1010.8 581.0L1012.1 579.7L1015.0 578.8L1017.5 581.7L1021.8 580.8L1028.2 578.2L1031.8 579.9L1034.8 579.9L1036.1 577.5L1039.6 574.1L1039.3 570.5L1041.0 566.4L1044.4 564.8L1047.6 568.2L1049.5 568.0L1050.5 562.0L1047.3 560.8L1047.6 557.5L1051.3 556.8L1055.3 556.1L1061.7 556.8L1068.7 554.5L1063.9 550.9L1058.3 552.1L1051.9 553.5L1045.5 555.2L1043.1 552.3L1040.7 548.7L1040.7 546.5L1039.9 542.8L1041.2 539.0L1046.0 535.2L1050.3 530.9L1053.5 529.3L1050.5 525.1L1043.1 526.4L1040.9 527.8L1039.9 530.9L1037.4 536.0L1032.1 538.0L1029.5 541.5L1027.6 542.5L1027.0 546.0L1027.1 550.9L1031.1 552.5L1032.7 555.4L1031.9 557.5L1029.5 559.4L1026.2 560.8L1025.5 564.8L1024.6 569.8L1022.0 572.1L1017.8 573.0L1018.0 574.8L1016.2 575.5L1013.2 575.6L1013.7 574.6L1012.7 572.6L1011.9 571.4L1013.2 569.8L1011.1 567.8L1010.0 565.0L1008.6 562.5L1007.8 559.2L1007.1 558.3L1006.3 554.7L1004.2 559.0L1002.3 559.7L1000.3 561.5L997.7 563.2L994.7 563.7L991.0 561.5L990.0 559.2L988.9 557.1L988.4 552.3L987.8 549.2L987.9 546.5L988.4 543.5L991.3 542.3L996.7 539.0L1000.3 536.0L1006.3 531.9L1007.6 530.1L1010.8 527.0L1012.1 524.1L1018.2 517.1L1023.3 512.7L1013.7 513.8L1018.8 511.9L1023.6 506.1L1026.5 505.5L1032.6 503.8L1034.5 501.5L1047.6 498.3L1054.6 495.4L1060.7 495.7L1065.2 497.2L1071.6 500.1L1067.3 501.8L1068.2 503.5L1072.2 504.4L1074.5 502.6L1079.3 506.1L1084.4 506.6L1092.7 509.4L1099.3 512.5L1103.6 518.2L1101.7 522.5L1095.3 523.5L1087.3 522.2L1081.8 520.6L1075.7 518.2L1080.2 523.0L1083.4 529.3L1083.4 531.9L1088.9 534.0L1094.0 535.0L1093.0 531.9L1089.5 529.1L1099.4 531.4L1101.7 530.9L1100.1 526.2L1107.1 521.4L1112.9 523.5L1112.2 518.7L1112.5 513.3L1110.6 509.7L1118.6 511.1L1119.9 517.1L1120.9 519.8L1125.0 516.0L1127.6 512.7L1128.9 514.9L1132.7 511.6L1140.0 510.0L1146.4 507.7L1144.8 512.2L1151.2 511.1L1157.6 508.9L1163.4 511.6L1163.4 507.7L1165.0 504.1L1169.3 503.5L1180.0 506.3L1186.4 510.0L1190.9 512.2L1187.4 507.7L1186.1 502.1L1185.8 495.7L1191.2 490.4L1196.0 484.4L1200.8 485.0L1205.3 488.6L1204.7 496.3L1204.3 502.1L1204.7 507.7L1207.9 511.6L1205.3 514.9L1200.8 519.3L1199.2 521.9L1202.4 520.9L1208.5 517.1L1210.7 513.3L1213.9 509.4L1220.0 510.0L1224.2 515.5L1221.6 511.1L1212.0 507.2L1208.8 502.1L1208.2 496.3L1210.4 491.0L1211.7 485.6L1220.0 488.0L1221.6 495.1L1223.5 490.4L1228.0 488.6L1231.2 491.6L1237.0 496.3L1237.6 500.4L1242.4 504.4L1247.2 502.1L1240.8 496.9L1237.6 491.6L1231.2 486.8L1229.6 481.3L1248.8 479.4L1247.2 474.4L1256.8 469.9L1269.6 466.0L1279.2 464.7L1288.8 464.1L1296.8 459.4L1305.8 453.8L1314.4 458.7L1330.4 460.7L1335.2 468.0L1330.4 472.5L1324.0 476.9L1314.4 480.7L1311.2 484.4L1324.0 483.1L1332.0 478.8L1336.8 480.7L1351.2 481.3L1355.3 484.4L1364.9 483.1L1372.0 479.4L1380.0 480.0L1386.4 484.4L1387.3 488.6L1384.5 492.5L1389.6 496.9L1394.4 496.3L1396.8 490.7L1400.8 493.4L1408.8 493.9L1416.8 490.4L1422.4 485.3L1424.8 488.6L1439.2 489.2L1450.4 489.2L1456.7 493.9L1459.9 496.9L1463.8 497.2L1474.3 496.9L1482.3 502.1L1488.1 504.4L1496.7 504.4L1504.7 504.1L1508.9 502.6L1513.7 507.2L1517.8 509.1L1516.9 503.8L1517.5 501.5L1525.5 502.6L1534.5 502.6L1543.1 505.5L1549.8 508.3L1555.9 511.6L1561.4 514.1L1565.5 518.2L1570.3 518.7L1574.5 519.0L1580.5 523.3L1581.0 523.6L1576.7 526.2L1571.9 526.7L1569.7 532.4L1563.9 532.9L1561.4 530.4L1560.7 527.2L1552.7 526.7L1551.1 522.5L1548.9 526.2L1544.7 529.3L1539.9 530.9L1542.5 532.9L1545.4 538.5L1545.0 543.3L1532.9 544.3L1523.9 548.4L1517.5 552.3L1516.9 554.6L1509.5 552.3L1503.8 554.2L1501.5 552.8L1496.7 555.2L1493.9 557.8L1490.3 563.6L1494.5 565.0L1491.9 571.9L1494.5 572.3L1490.7 578.4L1483.9 585.6L1479.5 586.9L1476.3 591.2L1473.3 595.1L1472.1 590.3L1471.8 586.9L1470.2 579.5L1469.9 574.1L1473.4 567.8L1474.3 564.6L1478.2 563.6L1483.6 558.5L1490.0 551.8L1494.5 546.0L1499.3 542.0L1491.3 547.0L1484.6 551.3L1485.2 544.8L1477.5 546.0L1471.1 548.9L1467.9 554.2L1467.9 559.0L1461.5 557.5L1456.7 558.5L1454.5 556.4L1448.4 557.1L1439.2 559.0L1430.2 557.3L1423.2 561.3L1416.4 565.9L1414.2 570.7L1408.8 575.0L1404.9 578.6L1409.7 582.6L1413.6 582.1L1419.3 580.4L1422.2 585.4L1423.8 586.0L1424.8 589.5L1422.5 592.5L1421.6 598.8L1420.9 603.0L1416.4 609.9L1413.6 615.1L1409.7 619.1L1404.9 624.0L1397.2 627.7L1394.0 626.5L1390.5 628.5L1390.2 629.6L1387.3 631.6L1385.4 635.8L1380.3 639.2L1379.8 641.6L1382.9 643.7L1384.5 646.8L1386.1 649.6L1386.5 653.1L1386.1 655.1L1384.9 656.5L1380.6 658.0L1376.8 659.4L1376.1 656.9L1377.1 653.2L1375.7 650.3L1377.1 647.9L1374.2 645.9L1371.0 645.5L1372.6 643.3L1372.9 639.9L1369.7 638.8L1364.0 641.0L1360.8 642.7L1360.1 640.7L1363.0 635.9L1359.8 635.2L1354.7 638.8L1351.2 641.4L1348.8 642.4L1349.6 645.1L1353.4 646.8L1354.4 649.2L1358.4 646.6L1362.7 647.7L1364.6 648.1L1361.7 650.7L1357.1 653.1L1354.5 655.4L1354.1 657.8L1357.9 662.3L1359.2 665.9L1362.1 668.7L1362.1 671.5L1358.5 673.6L1362.4 675.0L1361.4 678.5L1358.9 681.8L1356.0 685.8L1355.0 688.5L1352.8 691.3L1349.9 693.8L1345.6 697.5L1340.6 699.7L1337.4 701.2L1335.5 699.7L1335.3 701.6L1330.1 703.1L1325.6 705.1L1324.3 707.9L1323.0 705.8L1321.1 703.9L1318.6 703.6L1313.9 706.3L1311.0 709.6L1310.4 713.1L1313.1 717.0L1316.5 720.2L1318.4 721.7L1320.5 724.9L1321.6 729.3L1321.4 734.2L1320.8 736.7L1317.9 738.6L1314.7 740.4L1312.8 743.1L1307.2 746.0L1308.3 741.5L1306.2 740.2L1303.2 739.6L1301.6 736.3L1300.0 734.4L1296.2 732.9L1294.9 733.1L1293.6 730.2L1292.2 731.8L1291.8 733.2L1291.4 735.7L1289.6 740.0L1290.1 744.1L1292.3 746.3L1293.9 750.5L1296.2 751.5L1299.2 753.7L1302.1 756.5L1302.7 761.4L1304.3 765.8L1305.6 769.3L1304.2 769.6L1303.2 769.4L1299.2 766.6L1296.3 764.0L1293.9 760.2L1293.0 756.3L1293.0 754.1L1292.2 752.6L1290.4 749.9L1288.5 747.8L1286.6 748.6L1286.4 747.0L1287.5 741.7L1287.8 738.3L1287.5 733.6L1285.9 728.4L1285.1 724.4L1284.3 720.3L1282.4 718.0L1280.2 720.3L1277.3 722.6L1274.1 722.6L1273.4 722.0L1274.4 717.7L1273.9 713.9L1271.2 710.8L1269.3 708.3L1266.3 703.9L1265.8 701.1L1263.2 700.1L1258.4 702.8L1254.6 703.3L1252.0 703.4L1250.4 703.9L1249.5 707.9L1246.7 709.4L1243.7 711.3L1241.1 714.4L1238.6 716.4L1235.4 718.9L1234.1 720.7L1231.7 721.5L1230.9 722.8L1228.7 723.8L1228.5 727.2L1229.0 731.5L1227.5 735.4L1227.5 740.5L1225.5 741.8L1225.1 743.8L1222.1 745.4L1220.2 747.7L1218.1 746.3L1216.0 741.7L1214.4 737.5L1211.4 732.1L1209.8 726.9L1208.2 723.6L1206.6 718.7L1205.0 712.3L1205.1 707.4L1204.5 704.8L1204.0 701.1L1203.1 702.9L1200.8 705.4L1199.2 706.4L1197.1 705.8L1194.8 703.3L1192.7 701.2L1197.0 698.7L1194.0 699.4L1190.9 696.4L1188.0 695.7L1186.3 692.6L1185.2 690.6L1178.8 691.3L1175.1 691.1L1171.4 691.6L1169.6 691.8L1166.0 690.9L1160.8 690.6L1156.8 689.7L1154.6 686.5L1153.8 684.8L1152.0 684.6L1147.7 686.6L1142.6 685.1L1138.6 682.3L1134.6 678.5L1132.5 674.5L1127.6 674.9L1125.5 677.0L1127.3 679.9L1130.9 685.1L1132.4 687.0L1133.6 690.9L1134.6 689.9L1135.9 688.0L1137.0 690.9L1136.2 693.3L1137.2 694.7L1140.7 695.0L1146.0 693.8L1149.0 691.1L1151.1 689.2L1152.5 687.3L1152.4 691.6L1153.6 694.2L1159.4 696.7L1163.4 700.4L1160.5 704.1L1158.6 706.8L1156.7 709.9L1157.0 712.1L1152.2 715.7L1145.2 718.7L1141.6 720.0L1139.1 721.3L1135.2 724.3L1129.3 726.9L1126.3 728.5L1121.5 730.5L1116.1 732.4L1111.1 732.9L1110.5 730.8L1109.5 725.9L1109.0 721.0L1108.2 719.0L1105.2 715.4L1103.4 711.8L1100.1 707.8L1097.3 703.8L1096.5 699.4L1093.8 695.0L1091.1 691.3L1088.7 687.7L1086.3 683.9L1084.1 681.6L1084.1 676.3L1082.5 679.9L1081.7 682.6L1078.3 678.9L1076.2 674.9L1075.4 670.3L1080.2 670.6L1082.3 669.4L1083.3 667.3L1084.1 664.8L1085.7 660.9L1086.6 658.9L1086.5 655.1L1087.7 651.1L1085.2 651.2L1082.8 650.3L1080.2 652.2L1077.0 653.2L1074.5 651.2L1070.3 650.1L1069.3 652.2L1066.8 652.5L1065.2 651.1L1062.5 650.5L1059.8 650.7L1059.8 649.6L1059.3 646.4L1056.2 644.8L1058.2 644.2L1057.4 641.0L1055.5 640.4L1055.9 638.4L1057.8 636.1L1055.4 635.8L1055.0 635.2L1050.2 634.8L1048.6 635.9L1050.2 637.8L1048.2 636.9L1047.0 638.6L1045.5 636.1L1044.4 638.4L1046.8 641.6L1045.4 642.5L1049.0 645.3L1049.0 647.2L1047.6 646.1L1045.7 646.1L1046.2 647.4L1047.3 648.1L1045.0 647.6L1046.3 651.6L1044.2 650.5L1044.1 651.8L1042.8 649.6L1041.5 650.3L1040.2 647.2L1040.6 645.1L1039.6 644.6L1038.5 642.4L1036.7 640.3L1036.1 639.0L1034.3 636.7L1034.3 633.5L1033.5 631.2L1031.6 629.3L1030.0 628.3L1024.7 625.0L1023.0 624.2L1020.7 622.6L1019.8 619.1L1018.3 617.9L1016.4 619.7L1016.1 616.5L1011.6 617.5L1012.1 619.3L1011.4 621.5L1012.4 622.8L1015.3 624.6L1017.7 629.1L1023.8 631.2L1023.0 632.3L1026.2 634.2L1029.7 635.9L1031.3 637.8L1030.8 639.2L1029.7 638.2L1027.1 636.7L1024.9 639.5L1027.0 641.8L1025.0 644.2L1023.4 646.1L1022.2 645.5L1022.8 643.7L1023.6 642.2L1022.0 638.4L1019.4 635.9L1017.5 635.4L1015.4 633.9L1012.6 632.9L1011.3 631.8L1009.8 630.4L1007.8 629.3L1005.7 627.1L1005.0 624.8L1003.6 622.8L1000.6 621.5L999.3 621.9L997.1 623.8L995.3 624.2L993.4 626.0L991.1 626.5L989.2 625.8L987.1 625.6L983.9 625.4L982.0 626.9L982.2 629.1L982.7 629.6L979.0 633.3L976.1 634.2L974.8 635.8L972.1 638.6L971.1 640.5L972.7 643.1L970.5 644.6L969.9 647.2L968.9 647.4L965.1 650.6L964.3 650.1L960.9 650.7L958.0 650.7L955.0 652.9L954.2 653.2L951.9 651.4L950.2 649.2L946.7 649.6ZM962.3 560.6L965.7 565.0L965.5 567.6L963.5 571.4L961.5 572.8L964.1 572.8L966.7 574.6L968.6 579.0L971.8 581.2L972.7 583.9L972.7 586.0L976.3 586.5L977.7 588.2L976.3 590.8L976.6 592.9L976.3 594.2L973.1 595.7L968.6 595.4L964.4 596.3L961.2 595.9L960.3 598.0L953.9 598.6L956.1 596.3L958.7 593.8L962.5 593.8L959.9 592.1L955.8 591.8L957.1 589.9L959.0 586.9L957.1 586.9L957.7 584.3L962.2 584.7L962.5 582.6L961.9 580.8L960.9 577.7L956.4 578.8L956.7 575.9L956.1 573.7L953.5 575.9L953.9 571.4L952.3 569.6L953.5 565.5L956.1 560.8L959.3 561.1ZM948.7 575.7L952.6 576.4L954.5 579.0L952.6 581.7L952.6 584.7L951.6 589.5L945.5 591.2L940.7 592.7L938.8 589.5L940.7 587.8L940.4 584.7L940.1 580.4L944.6 580.4L945.5 576.6ZM1007.3 439.2L1023.3 437.4L1029.7 438.5L1036.1 435.5L1048.9 435.5L1059.1 438.5L1053.7 442.8L1039.3 445.6L1042.5 449.8L1029.7 455.3L1025.8 461.4L1018.5 458.7L1016.9 454.7L1010.5 450.5L1008.9 445.6ZM1039.3 450.5L1040.9 455.3L1047.3 456.7L1050.5 451.9ZM1413.6 464.7L1426.4 466.0L1434.4 471.2L1431.2 473.8L1416.8 473.1L1412.0 469.9ZM1440.8 469.3L1453.5 470.6L1450.4 473.8L1440.8 472.5ZM1420.0 478.8L1431.2 481.3L1426.4 483.1L1420.0 482.5ZM1544.1 493.4L1555.9 494.5L1552.7 496.9L1544.7 496.9ZM1126.6 504.9L1133.0 506.1L1130.5 508.9L1126.6 508.3ZM1159.9 499.8L1165.6 500.9L1164.0 503.8L1159.9 503.8ZM1428.6 579.9L1430.2 583.9L1430.5 589.5L1432.1 596.7L1433.7 601.7L1434.7 603.4L1429.6 603.0L1429.6 609.1L1431.2 612.7L1426.7 615.3L1426.0 612.3L1427.0 607.1L1426.7 600.9L1426.7 594.6L1425.4 589.1L1426.0 583.9ZM1426.2 617.1L1430.5 621.5L1436.3 623.4L1437.9 625.6L1433.7 626.9L1430.5 630.8L1425.7 628.9L1421.2 632.7L1420.0 629.6L1421.2 625.8L1424.4 625.6L1425.4 621.5ZM1422.8 632.7L1425.4 636.5L1426.4 640.3L1424.8 644.8L1423.2 649.6L1422.5 654.3L1419.6 656.9L1416.1 658.0L1410.4 658.2L1406.5 662.3L1404.3 659.4L1399.2 658.3L1394.7 660.5L1390.8 660.7L1391.8 659.1L1396.6 655.4L1402.4 654.7L1406.5 654.3L1409.7 650.3L1410.0 648.1L1411.3 649.6L1414.5 648.8L1417.4 645.9L1419.6 641.4L1420.0 638.4L1420.6 634.6ZM1400.1 659.4L1402.7 660.1L1401.4 663.0L1397.6 664.8L1395.6 662.3ZM1390.8 660.9L1393.4 661.9L1394.0 664.8L1392.1 669.8L1390.2 671.2L1388.6 669.1L1388.9 665.5L1387.0 664.8L1387.3 662.3ZM1360.8 690.9L1362.1 693.6L1359.8 699.4L1358.5 702.3L1356.3 698.7L1357.9 693.6ZM1326.2 708.4L1327.2 710.1L1324.3 713.7L1320.8 714.4L1319.7 711.4L1322.7 709.1ZM1228.3 742.1L1231.9 746.0L1234.1 751.2L1229.9 754.4L1228.0 754.1L1227.4 750.2L1227.5 746.3ZM1082.6 654.5L1080.5 656.5L1077.7 658.3L1075.4 656.9L1077.7 655.6ZM1047.6 654.7L1056.2 655.8L1054.3 656.9L1047.6 656.2ZM1022.0 645.1L1020.4 647.7L1020.4 650.7L1016.9 649.2L1012.4 647.4L1012.7 645.5L1018.5 645.9ZM1001.5 633.9L1003.5 636.5L1002.8 641.4L1000.3 642.5L999.0 641.0L998.3 635.8ZM1002.2 626.9L1002.7 630.0L1001.5 633.1L999.6 631.2L1000.3 628.1ZM982.0 638.8L982.7 640.7L980.7 641.0L980.1 639.5ZM1046.6 642.2L1049.5 644.0L1050.5 645.9L1047.6 644.4ZM1032.9 564.1L1032.2 566.4L1030.3 568.2L1030.3 565.5ZM1042.5 560.8L1045.7 562.2L1042.8 563.6L1041.8 561.8ZM1011.4 572.3L1012.4 574.6L1010.5 577.3L1007.9 575.9L1007.3 574.1ZM1005.0 574.6L1006.6 576.4L1004.7 577.3L1003.5 575.5ZM1142.9 732.8L1146.4 733.4L1143.2 734.1ZM1190.9 460.3L1181.3 462.4L1168.9 464.4L1159.2 467.2L1152.4 472.0L1146.8 478.9L1144.8 481.0L1153.0 481.6L1159.2 476.1L1164.8 472.7L1174.4 468.6L1182.7 465.8L1191.5 463.0L1192.0 461.0ZM1141.3 483.7L1151.7 484.4L1148.2 489.2L1148.9 494.0L1154.4 498.2L1147.5 498.4L1144.1 497.5L1142.7 494.0L1136.9 492.0L1140.0 488.5ZM1116.5 434.0L1122.0 432.5L1126.0 433.5L1121.0 435.5ZM1128.0 432.5L1135.0 432.8L1133.0 434.5L1129.0 434.2ZM1147.0 430.5L1153.0 431.0L1158.0 433.5L1151.0 435.5L1150.0 433.0ZM1162.0 433.0L1169.0 432.0L1167.0 435.0L1164.0 434.8ZM1173.0 431.0L1180.0 430.0L1179.5 431.8L1174.0 433.0ZM1268.0 433.0L1270.0 431.0L1279.0 430.5L1283.0 432.5L1282.0 436.0L1274.0 437.0L1267.0 436.5ZM1271.0 441.5L1276.0 438.5L1288.0 438.5L1291.0 440.0L1290.0 445.5L1283.0 446.0L1275.0 444.5ZM1290.0 451.5L1296.0 444.5L1299.0 443.0L1303.0 446.0L1308.0 448.0L1306.0 450.0L1298.0 450.5ZM953.5 654.0L955.1 653.6L959.6 656.0L962.7 655.8L970.0 654.3L976.3 651.4L981.9 650.3L988.4 650.5L994.2 650.0L996.9 650.0L1003.6 648.5L1007.4 649.3L1006.0 651.8L1006.2 654.0L1007.8 656.2L1006.5 657.8L1004.4 660.9L1007.6 662.3L1014.3 664.4L1020.4 666.2L1025.2 670.5L1033.2 673.6L1036.4 671.2L1036.2 667.3L1041.2 664.4L1044.6 665.0L1048.7 667.3L1052.6 669.2L1059.3 669.9L1064.7 671.7L1067.8 670.5L1069.3 669.6L1073.8 669.4L1075.4 670.3L1076.2 674.9L1077.0 679.9L1079.9 684.1L1082.8 690.2L1085.7 695.3L1089.8 702.1L1091.1 710.1L1094.6 714.4L1098.5 723.3L1103.3 726.6L1110.0 732.8L1110.0 736.3L1116.1 740.2L1124.1 738.3L1130.5 737.3L1136.2 735.7L1136.5 740.2L1132.0 748.0L1126.6 757.6L1117.0 767.2L1108.1 775.2L1103.3 780.0L1099.1 786.4L1097.8 795.4L1098.1 801.5L1102.0 808.0L1101.7 813.8L1102.3 821.9L1098.5 826.9L1090.5 831.8L1083.7 837.8L1085.0 843.4L1085.7 851.9L1078.3 856.3L1076.4 858.7L1076.1 865.6L1071.3 872.2L1066.8 877.8L1060.4 884.9L1031.0 884.9L1029.7 877.8L1024.9 867.6L1020.1 858.7L1018.5 848.5L1014.6 840.1L1010.5 833.1L1010.8 822.6L1015.3 813.8L1015.9 807.3L1014.3 801.8L1011.8 792.8L1009.8 789.0L1003.5 781.6L1000.3 775.8L1002.2 772.3L1003.5 766.6L1003.1 760.8L999.0 759.5L991.3 759.8L987.5 755.0L983.0 753.1L976.3 753.7L971.5 756.0L965.4 758.6L961.2 757.3L959.3 756.6L947.5 759.5L941.7 756.3L937.6 753.4L932.1 749.6L929.9 746.3L928.3 743.1L924.8 739.2L922.2 735.4L918.7 734.1L918.7 730.2L916.1 726.2L919.3 722.0L920.9 715.1L919.3 710.8L917.4 706.1L917.7 704.4L919.3 701.1L921.2 696.4L925.7 688.2L930.8 681.6L938.2 678.2L941.4 673.3L940.7 669.4L942.7 665.5L947.8 661.9L951.0 659.4ZM1129.7 812.0L1132.0 816.6L1133.0 821.6L1133.6 824.2L1131.3 823.3L1131.4 827.8L1130.1 832.3L1126.8 842.4L1125.2 847.8L1122.5 855.3L1116.5 857.3L1113.2 855.3L1111.7 849.7L1110.8 844.3L1113.8 839.4L1112.9 831.8L1114.3 825.9L1120.2 824.2L1124.1 820.6L1126.5 816.7L1128.2 813.5ZM1277.0 755.7L1284.0 756.9L1286.9 760.5L1290.4 763.0L1294.6 766.9L1299.4 770.4L1304.2 773.0L1306.1 776.8L1310.9 781.0L1311.5 784.2L1310.9 789.0L1310.6 792.5L1306.7 791.5L1301.6 788.0L1297.1 784.2L1294.6 780.0L1293.1 776.5L1291.0 772.6L1288.2 768.2L1284.6 766.2L1281.8 761.8L1277.9 758.9ZM1311.2 792.5L1314.4 793.1L1318.9 793.8L1320.2 795.4L1325.3 795.7L1326.9 794.1L1332.0 795.7L1334.2 798.3L1338.1 798.3L1338.4 801.5L1333.6 800.5L1328.8 800.2L1322.4 798.6L1317.6 798.6L1312.8 797.3L1309.0 795.4ZM1338.4 799.9L1341.9 799.9L1346.4 800.4L1349.6 800.1L1352.8 800.9L1356.0 800.5L1364.9 800.5L1364.9 801.7L1356.0 801.8L1351.2 801.8L1346.4 802.0L1341.9 801.5L1339.3 801.5ZM1377.7 800.2L1379.3 800.9L1372.9 803.8L1367.5 806.7L1367.2 805.7L1370.1 803.1L1373.6 801.5ZM1353.1 803.8L1356.9 804.4L1357.6 806.3L1353.4 805.4ZM1346.1 751.2L1348.6 752.1L1353.4 756.0L1351.2 759.5L1348.9 760.2L1348.3 764.0L1349.6 767.8L1352.5 770.4L1348.9 771.0L1348.0 775.8L1344.5 779.4L1343.8 783.2L1343.2 786.4L1339.0 786.7L1335.8 784.5L1329.7 784.2L1324.9 782.9L1324.0 777.8L1321.4 773.6L1320.8 769.8L1322.7 767.5L1326.5 768.5L1328.1 765.0L1333.9 763.4L1336.8 759.2L1341.3 757.6L1343.2 755.0L1345.4 751.8ZM1372.6 769.1L1370.4 771.0L1366.2 772.0L1359.2 772.0L1356.3 772.0L1355.7 775.5L1358.5 776.5L1363.0 776.5L1366.9 776.2L1362.7 779.4L1361.7 781.6L1363.3 784.8L1365.3 787.7L1364.3 790.9L1361.1 789.0L1360.5 786.1L1359.2 782.6L1357.3 783.2L1357.3 787.0L1356.9 791.2L1354.1 791.5L1354.7 786.4L1352.5 784.5L1353.4 780.0L1355.3 776.2L1355.3 773.0L1357.6 770.7L1360.8 769.4L1365.3 770.7L1368.8 770.4L1371.3 768.5ZM1381.3 766.6L1383.8 769.8L1382.2 771.4L1381.6 776.2L1380.3 773.6L1380.0 770.4L1380.6 767.8ZM1382.2 782.6L1387.3 782.9L1390.5 784.2L1386.4 785.1L1381.9 784.2ZM1375.5 783.5L1378.7 783.8L1377.7 785.8L1375.2 785.1ZM1390.8 774.9L1395.3 774.9L1400.8 776.5L1402.4 781.6L1404.9 784.2L1409.4 780.6L1412.9 778.4L1418.4 780.0L1423.2 781.9L1428.0 784.2L1434.4 786.1L1438.5 790.3L1443.3 792.5L1444.9 795.1L1444.9 798.3L1449.4 802.5L1452.6 806.3L1453.5 807.6L1447.8 806.3L1442.4 803.4L1439.2 799.2L1435.0 798.9L1430.5 800.9L1428.6 803.1L1423.2 802.8L1418.0 800.2L1414.5 799.9L1415.8 797.0L1414.2 794.4L1411.6 790.6L1407.2 788.6L1402.4 786.7L1398.2 786.1L1396.6 783.2L1394.4 782.6L1396.3 780.6L1400.1 781.0L1395.3 778.7L1391.5 777.8ZM1459.0 787.0L1458.7 790.9L1452.6 793.5L1446.8 791.5L1451.3 790.9L1455.8 789.6ZM1454.5 781.9L1459.6 785.1L1461.9 788.6L1459.9 787.7L1456.1 783.5ZM1467.0 790.9L1470.8 795.4L1468.6 794.4ZM1482.7 803.4L1486.5 805.4L1483.3 804.7ZM1485.9 799.9L1488.4 804.1L1487.1 800.5ZM1496.7 838.8L1506.0 846.1L1503.1 845.5L1497.4 840.4ZM1358.5 713.4L1363.0 714.1L1363.7 718.0L1361.4 722.0L1361.7 727.5L1366.5 729.2L1369.1 732.1L1368.5 733.1L1364.0 729.8L1360.1 729.5L1357.9 729.2L1357.6 726.2L1356.0 724.3L1356.9 721.0L1357.3 717.0ZM1373.6 742.1L1376.1 745.4L1376.8 750.2L1375.8 753.7L1372.9 755.7L1369.1 752.8L1368.1 749.6L1362.7 751.5L1363.3 748.0L1367.5 746.0L1370.4 747.6L1371.3 744.7ZM1369.7 733.4L1373.3 734.4L1373.9 737.9L1372.3 740.9L1368.8 741.5L1366.5 743.1L1365.6 744.4L1364.0 741.5L1362.1 739.9L1362.4 735.7L1365.9 736.3L1367.5 738.3L1370.4 736.7ZM1354.4 737.0L1354.1 740.5L1347.3 746.3L1347.0 745.4L1352.8 739.9ZM1357.3 730.2L1359.8 730.5L1360.8 733.7L1359.2 734.1L1357.6 731.8ZM1342.2 883.1L1340.9 876.0L1338.7 868.3L1337.3 864.5L1334.1 859.2L1335.7 854.9L1336.0 848.8L1337.3 844.4L1338.1 846.5L1340.3 843.9L1345.4 840.6L1351.5 839.4L1358.2 837.4L1360.8 835.1L1363.0 831.6L1365.3 826.5L1367.7 829.5L1367.8 825.5L1370.1 822.9L1373.9 819.7L1378.2 817.9L1381.9 821.9L1384.8 821.5L1386.7 821.9L1386.4 819.5L1388.3 816.4L1390.7 813.6L1392.1 812.3L1395.6 813.0L1394.0 809.9L1397.2 809.9L1399.2 811.4L1401.4 812.3L1405.9 812.2L1409.7 812.8L1410.3 813.3L1407.2 816.4L1406.8 819.3L1405.2 821.1L1410.0 824.9L1413.6 827.5L1418.7 830.6L1422.7 830.0L1424.4 824.9L1425.1 821.6L1425.9 814.3L1426.4 811.8L1428.0 808.0L1429.2 811.7L1430.4 812.0L1431.2 815.3L1432.4 820.0L1434.4 819.2L1436.8 823.4L1438.5 828.2L1439.5 830.2L1441.7 835.9L1446.4 838.4L1449.4 842.3L1454.2 846.8L1454.3 848.8L1456.1 851.4L1459.6 854.4L1462.2 856.3L1461.9 860.0L1462.2 863.5L1463.5 867.8L1462.0 873.6L1461.5 876.0L1458.3 883.1ZM1408.4 817.7L1410.0 818.0L1409.7 819.7L1408.1 819.3ZM1389.2 809.6L1392.1 809.9L1391.2 811.5L1388.6 811.5ZM1156.4 838.4L1157.0 839.8L1155.4 839.8ZM1149.6 841.4L1150.6 842.8L1149.0 842.8ZM1110.6 810.2L1111.3 811.8L1110.3 811.2ZM574.2 476.9L583.9 475.8L595.1 477.3L602.5 481.3L591.3 486.6L586.9 489.6L585.4 493.3L578.7 495.5L570.4 490.3L574.2 485.1L575.7 479.9ZM592.1 488.1L605.5 483.6L607.8 486.6L611.5 485.1L616.0 488.1L619.7 485.1L624.2 488.1L625.7 483.6L630.9 484.3L636.1 489.6L637.6 495.5L648.8 502.2L645.1 507.5L640.6 508.2L631.6 505.2L627.9 508.2L610.0 510.4L607.8 506.7L598.1 505.2L597.3 502.2L613.0 500.0L606.3 497.8L595.1 497.8L594.3 494.0L599.6 494.0L592.1 491.0ZM580.9 464.2L589.9 457.5L599.6 456.0L601.0 459.7L592.1 463.4L586.9 466.4ZM596.6 470.1L601.0 463.4L606.3 462.7L609.3 464.9L613.7 465.7L616.7 469.4L622.7 468.7L620.4 464.2L624.2 461.2L626.4 465.7L633.9 466.4L633.1 470.9L622.7 473.1L612.2 474.6L607.8 472.4L601.0 471.6ZM605.5 452.2L619.7 447.8L621.2 450.0L619.7 455.2L612.2 456.4L610.0 454.5ZM644.3 467.9L648.1 464.2L651.0 465.7L653.3 462.7L658.5 461.9L659.3 467.9L657.8 471.6L651.0 471.6L653.3 467.9ZM635.4 444.0L643.6 444.0L652.5 447.8L654.8 453.0L651.0 452.2L648.1 450.0L641.3 449.3L637.6 446.3ZM658.5 447.0L666.7 449.3L666.7 452.2L660.7 453.0ZM664.5 470.1L669.7 468.7L672.7 471.6L671.9 473.9L666.0 473.1ZM663.0 438.1L669.7 429.9L676.4 429.1L683.9 434.3L691.3 435.8L695.1 441.0L701.8 443.3L699.6 445.5L692.8 447.0L686.9 450.7L677.9 450.7L671.9 446.3L678.7 443.3L667.5 442.5ZM680.1 425.4L699.6 420.1L706.3 421.6L710.7 417.2L725.7 414.9L746.6 414.9L766.0 417.2L774.9 420.1L764.5 426.1L755.5 432.1L743.6 439.6L733.1 442.5L730.1 450.0L722.7 452.2L718.2 456.7L721.9 460.4L714.5 463.4L707.8 461.9L698.8 462.7L686.9 461.9L686.1 459.7L692.8 457.5L700.3 456.7L694.3 451.5L710.0 438.8L716.7 433.6L695.1 435.8L683.9 429.9ZM675.7 462.7L682.4 461.9L683.9 465.7L695.1 469.4L707.0 467.2L716.7 469.4L715.2 473.9L703.3 474.6L691.3 474.6L678.7 473.9L677.2 468.7ZM644.3 485.1L648.1 481.3L654.0 480.6L661.5 480.6L658.5 485.1L663.0 488.1L663.0 491.0L656.3 494.0L649.6 488.8ZM666.7 481.3L669.7 478.4L682.4 479.1L677.2 485.8L671.9 486.6L671.2 489.6L668.2 489.6L666.7 485.8Z" fill="#e6ebf3" stroke="none"/>
<path d="M1065.2 633.9L1068.9 633.9L1073.8 632.9L1080.1 630.9L1084.5 630.6L1088.4 633.5L1093.3 634.6L1099.3 634.6L1104.5 633.1L1105.2 632.1L1105.3 630.2L1103.3 626.9L1099.1 624.6L1097.0 622.6L1093.0 620.3L1091.4 619.5L1089.5 618.3L1091.7 617.9L1094.1 614.9L1094.6 612.3L1096.5 610.3L1097.8 610.7L1092.1 610.9L1089.8 612.1L1085.3 613.7L1083.7 614.5L1085.7 617.5L1088.7 617.7L1085.3 618.9L1083.9 619.7L1081.3 621.1L1080.1 621.5L1079.1 620.7L1078.8 618.3L1076.1 617.7L1079.6 615.1L1077.3 614.7L1072.9 612.9L1070.5 613.1L1069.5 614.9L1067.3 618.3L1063.8 622.5L1061.5 626.2L1060.1 628.9L1061.7 631.2ZM1125.0 615.9L1128.9 613.5L1133.0 611.9L1137.5 611.1L1141.6 613.1L1142.3 617.5L1136.2 618.3L1133.0 620.7L1135.7 624.4L1139.7 627.7L1140.7 631.2L1145.5 631.9L1146.4 634.6L1141.3 634.6L1141.6 638.4L1142.0 640.7L1144.2 645.1L1144.7 647.9L1144.8 650.1L1140.5 650.7L1136.5 650.9L1130.3 647.9L1128.4 644.2L1130.1 640.7L1133.2 637.1L1130.9 636.1L1128.9 633.5L1126.6 630.6L1124.2 627.1L1124.4 623.8L1122.1 620.7L1122.8 618.3ZM1064.9 634.6L1067.8 635.6L1065.2 636.9L1061.0 637.1L1058.8 636.1L1061.7 634.6Z" fill="#ffffff" stroke="none"/>
<path d="M965.1 656.5L966.7 660.5L968.3 665.9L962.8 667.3L960.6 671.2L956.1 674.7L951.3 676.4L946.5 676.8L944.3 679.2L944.4 682.8M929.9 682.8L944.4 682.8M944.4 682.8L944.4 688.5L933.7 688.5L933.7 697.2L930.5 700.1L930.5 704.3L917.7 704.3M944.4 684.1L956.6 691.9L975.8 705.1L979.8 708.8L985.7 711.6L990.7 710.4L1010.5 697.0M956.6 691.9L951.3 691.9L952.3 708.8L954.5 723.6L942.3 723.6L937.9 723.9L933.1 725.9M933.1 725.9L929.6 723.3L925.7 720.0L920.9 720.3L919.3 721.8M933.1 725.9L935.3 730.2L935.6 733.7M919.0 729.8L924.1 729.5L928.0 730.2L925.7 731.1L918.7 731.3M918.7 733.9L922.5 733.1L928.3 732.9L935.6 733.7M928.3 732.9L928.0 736.0L924.1 738.3M935.6 733.7L943.3 735.0L945.5 738.3L946.5 740.5M929.6 744.7L936.3 741.5L938.2 744.7L939.2 746.7M939.2 746.7L941.7 746.3L943.0 749.2L945.2 749.6M946.5 740.5L947.1 744.7L945.2 749.6M939.2 746.7L935.3 751.5M945.2 749.6L945.2 753.1L948.4 756.3L948.1 759.5M946.5 740.5L952.3 740.2L954.5 740.9M954.5 740.9L957.7 742.1L963.1 742.5M963.1 742.5L963.8 748.0L961.9 752.8L962.2 757.3M954.5 740.9L955.5 735.0L959.3 730.8L963.1 728.5L968.9 725.3L972.7 725.3M963.1 742.5L963.1 738.3L971.8 738.3M971.8 738.3L973.4 743.1L974.0 751.2L975.9 754.1M975.0 738.3L977.2 744.7L977.5 753.4M971.8 738.3L975.0 738.3L979.8 735.4M972.7 725.3L975.0 730.2L979.1 733.1L979.8 735.4M979.8 735.4L983.6 733.7L983.6 736.0M983.6 736.0L983.6 741.5L981.1 744.7L980.7 753.1M985.7 711.6L985.5 720.3L983.3 724.3L976.3 723.9L972.7 725.3M1010.5 697.0L1004.7 694.3L1002.2 687.5L1003.5 681.6L1002.5 674.0M1002.5 674.0L998.7 665.9L996.7 663.4L996.1 659.8L998.5 658.0L998.3 651.4L999.8 649.8M1002.5 674.0L1005.0 671.5L1006.3 667.6L1008.9 666.6L1009.0 663.5M1010.5 697.0L1017.5 700.1L1020.1 698.7M1020.1 698.7L1048.9 710.4M1048.9 710.4L1048.9 708.8L1052.1 708.8L1052.1 702.1M1052.1 702.1L1052.1 677.5L1051.1 674.0L1052.6 669.1M1052.1 702.1L1090.1 702.1M1020.1 698.7L1022.0 705.4L1023.0 708.8L1021.7 719.0L1016.9 723.6L1015.3 726.9L1015.6 729.8L1017.2 731.5M1048.9 710.4L1048.9 723.0L1045.7 723.6L1043.8 728.5L1042.2 732.8L1045.4 738.3M983.6 736.0L984.9 731.8L989.7 729.2L995.1 731.8L999.9 732.4L1006.3 730.8L1012.1 730.8L1015.0 729.5L1017.2 731.5M1017.2 731.5L1016.6 736.7L1014.6 741.5L1013.0 744.7L1010.5 749.6L1008.2 752.8L1004.7 751.2L1002.2 753.1L1000.6 755.0L999.6 758.9M1017.2 731.5L1020.1 734.7L1021.7 741.5L1017.5 741.8L1016.9 744.7L1021.7 749.6M1021.7 749.6L1025.2 748.3L1028.1 749.6L1031.6 748.0L1032.9 744.7L1037.4 744.4L1045.4 738.6M1021.7 749.6L1018.5 754.4L1019.1 759.2L1020.4 762.1L1023.9 766.6M1023.9 766.6L1014.6 766.6L1008.2 766.6L1003.5 766.2M1008.3 766.7L1008.3 770.4L1003.5 770.4M1014.6 766.6L1017.8 769.4L1018.5 776.8L1016.2 781.0L1012.1 781.0L1009.2 781.6L1007.6 786.1M1023.9 766.6L1025.2 762.4L1031.6 762.1M1031.6 762.1L1034.2 757.6L1044.1 759.8L1050.5 758.2L1053.0 757.6L1059.8 757.6M1031.6 762.1L1030.0 767.2L1029.0 773.6L1028.4 777.1L1023.9 780.0L1023.0 786.4L1020.7 787.4L1018.2 789.3L1014.3 788.3L1012.7 787.7L1011.1 789.6M1014.3 788.3L1013.7 792.2L1011.4 792.3M1045.4 738.6L1047.6 741.5L1049.5 745.7L1052.7 747.3L1056.6 751.2L1059.8 757.6M1049.5 745.7L1053.7 741.5L1061.4 743.1L1066.5 740.5L1070.6 742.8L1075.4 739.9L1077.0 734.7L1078.3 738.3L1081.2 743.1M1081.2 743.1L1083.7 738.6L1087.6 733.4L1088.9 727.5M1088.9 727.5L1088.9 724.3L1090.5 718.7L1095.6 715.4M1088.9 727.5L1093.3 726.9L1096.9 727.2L1100.7 726.9L1105.8 731.8L1107.7 733.4M1107.7 733.4L1110.0 732.8M1107.7 733.4L1105.8 738.3L1109.3 738.3M1109.3 738.3L1110.5 736.7M1109.3 738.3L1110.6 742.8L1122.5 748.0L1125.7 748.0L1116.1 757.6L1111.3 757.9L1106.5 760.2M1106.5 760.2L1098.5 762.4L1093.7 762.7L1089.8 759.5L1086.9 758.9M1086.9 758.9L1085.0 756.3L1083.1 754.4L1077.7 751.2L1078.0 748.0L1080.5 746.7L1081.2 743.1M1106.5 760.2L1103.3 764.6L1103.3 773.6L1105.2 779.0M1086.9 758.9L1080.9 760.2M1080.9 760.2L1077.7 761.4L1071.3 762.4L1070.9 762.4M1070.9 762.4L1067.1 760.2L1063.0 759.5L1059.8 757.6M1080.9 760.2L1083.4 769.8L1080.9 773.0L1080.5 776.8M1080.5 776.8L1092.4 783.2L1092.7 784.5L1097.5 788.6M1080.5 776.8L1069.7 776.8M1070.9 762.4L1070.6 765.9L1068.7 769.8L1067.1 773.6L1066.8 778.1M1066.8 778.1L1069.5 777.0M1069.5 777.0L1070.8 781.3M1070.8 781.3L1067.8 782.2L1064.9 782.2M1066.8 778.1L1064.6 781.3L1064.9 782.2L1065.5 787.7M1070.8 781.3L1070.6 784.2L1067.3 787.8M1066.5 787.8L1066.5 792.8L1070.6 799.9M1070.6 799.9L1077.3 803.8M1077.3 803.8L1080.9 804.4L1083.7 810.9M1083.7 810.9L1087.3 810.9L1093.7 809.9L1101.3 807.3M1083.7 810.9L1083.1 817.0L1086.6 820.0L1086.6 823.6L1085.0 828.8L1082.1 827.8L1082.1 820.6L1078.3 818.7M1078.3 818.7L1078.6 813.8L1078.6 808.9L1077.3 803.8M1078.3 818.7L1072.9 820.3L1069.3 823.9M1069.3 823.9L1064.6 825.2L1058.5 831.5L1053.0 831.1M1069.3 823.9L1072.9 825.2L1077.3 826.9L1077.7 831.8L1077.0 837.8L1075.7 842.8L1072.2 846.5M1072.2 846.5L1066.2 845.8M1066.2 845.8L1061.7 843.4L1059.4 838.4L1054.6 833.5L1053.0 831.1M1072.2 846.5L1074.5 851.9L1074.5 858.3L1074.8 861.4L1077.3 861.6M1074.5 858.3L1072.5 857.6L1070.6 860.4L1071.9 863.1L1074.8 861.4M1066.2 845.8L1058.2 851.9L1054.0 857.3L1045.7 856.3L1038.3 861.8L1036.1 854.6M1036.1 854.6L1036.1 845.1L1039.3 845.1L1039.3 832.8L1046.6 831.8L1053.0 831.1M1009.8 829.3L1017.5 829.8L1031.0 829.8L1039.3 831.5L1047.0 830.2L1052.7 830.2M1047.0 830.2L1042.5 825.9L1042.5 815.4L1048.9 815.4L1048.6 808.6M1048.6 808.6L1043.4 809.6L1042.5 805.1L1041.8 799.2L1037.7 797.0L1034.5 796.0L1034.2 799.2L1028.4 799.6L1026.5 797.6L1025.2 792.5L1013.7 792.3L1011.8 792.8M1024.9 867.6L1027.8 865.9L1032.9 869.0L1036.1 866.9L1036.1 854.6M1063.9 867.6L1066.2 870.1L1062.6 873.6L1059.8 874.6L1058.5 871.1L1060.7 868.7L1063.9 867.6M1070.6 799.9L1064.6 800.9L1063.3 803.8L1063.6 808.0L1064.9 813.1L1067.4 812.8L1066.8 816.7L1063.3 815.4L1060.1 813.1L1055.3 811.5L1050.2 811.2L1048.6 808.6M521.0 504.1L521.0 552.8L527.1 553.3L532.2 555.2L535.8 556.6L539.9 556.1L545.4 560.4L549.2 566.9L551.1 570.1L556.2 573.2L555.6 577.3L554.3 578.6M577.7 603.0L623.4 600.0L667.7 603.0L667.7 601.3L673.0 604.6L685.5 607.1L689.3 605.8L697.0 609.9L700.8 611.5L702.1 613.1L705.0 615.1L708.2 617.9L709.5 624.6L708.5 626.9L706.3 629.6L707.5 631.9L716.2 629.6L719.7 627.7L719.2 625.8L720.3 624.6L726.4 624.2L727.7 622.6L732.5 619.5L733.1 619.1L743.4 619.1L745.0 617.9L746.9 617.9L748.0 613.5L750.7 609.3L753.6 609.7L755.2 611.1L755.2 616.3L756.5 618.3L757.8 619.5M597.5 665.9L605.2 665.2L616.7 670.1L626.0 670.1L626.0 668.3L631.4 668.5L636.5 672.6L638.1 676.4L642.3 678.2L644.8 675.4L647.7 675.6L649.3 677.1L650.6 679.2L653.8 683.4L655.1 687.2L658.0 688.4L661.3 688.7M677.2 726.7L677.2 724.3L678.8 721.8L682.8 721.8L681.0 717.9L681.0 716.0L686.9 716.0M686.9 716.0L686.7 722.3L687.7 722.3M686.9 716.0L689.6 713.7M689.6 723.0L686.3 727.2L683.9 729.3M686.3 727.2L689.0 728.2L691.2 730.5M692.8 731.8L694.7 729.2L697.6 728.5L700.8 725.9L706.1 725.3M697.9 737.9L701.1 738.3L704.5 738.6M708.0 743.0L707.4 745.1L706.9 747.9M724.5 745.9L725.1 748.3L722.9 750.5M742.6 709.8L742.1 713.4L742.6 715.4M744.0 735.5L740.2 738.3L738.9 744.1L740.5 749.9L745.9 751.2L750.1 753.7L756.2 753.7L755.2 759.2L755.2 764.6L758.1 769.8M758.1 769.8L754.6 768.2L748.8 768.2L750.4 771.7L748.2 774.6L749.8 780.6L748.3 787.0M748.3 787.0L747.5 781.6L743.4 781.0L738.9 781.0L737.0 778.4L731.2 773.9M731.2 773.9L728.0 772.3L724.5 772.3L723.5 771.0L720.0 769.1M731.2 773.9L730.9 776.8L728.7 780.3L722.9 783.2L721.6 784.5L720.3 787.7L719.4 789.6L717.5 787.7L714.9 787.7L715.2 784.5M748.3 787.0L745.0 787.7L738.9 789.9L737.9 794.7L735.4 797.3L738.6 802.5L741.1 805.7L744.0 805.7L746.6 804.1L746.3 808.9L749.6 808.9M749.6 808.9L752.3 813.8L751.7 819.3L750.4 822.9L751.4 825.9L750.4 827.2L749.8 830.2M749.8 830.2L746.9 833.0M749.8 830.2L752.6 835.1L753.3 841.8L755.0 848.1M755.0 848.1L756.8 852.9L753.0 856.3L753.6 862.1L749.4 866.2L748.5 872.5L747.2 879.6L748.5 884.9M755.0 848.1L757.1 847.8L760.3 844.4L766.4 845.5L771.2 845.1M749.6 808.9L752.3 808.9L759.0 804.7L763.2 805.1L763.2 808.9L766.1 813.8L770.6 813.8L774.4 817.0L778.6 817.0L779.2 821.9L779.5 826.2L785.3 826.2L785.3 830.2L787.8 831.5L785.9 837.8L786.1 839.1M786.1 839.1L783.0 836.1L774.7 836.1L772.8 840.4L771.2 845.1M771.2 845.1L777.0 851.5L787.5 856.3L784.6 863.1L791.7 863.8L794.2 862.4L797.4 857.3M786.1 839.1L786.9 845.5L793.6 846.1L794.9 851.9L798.4 851.9L797.4 857.3M797.4 857.3L799.7 857.3L800.0 862.8L793.3 867.3L787.8 873.2M787.8 873.2L790.4 872.9L793.3 876.0L801.3 881.3L801.3 885.6M787.8 873.2L785.9 879.6L785.3 886.7M758.1 769.8L760.0 771.2L764.8 769.8L769.3 766.6L765.4 760.8L771.2 760.8L775.4 759.2L777.9 756.9M777.9 756.9L776.0 754.4L776.6 752.1L778.9 750.5L780.2 747.6L780.2 746.3M777.9 756.9L780.3 756.9L780.2 759.2L781.4 761.4L780.3 764.6L782.4 769.4L785.0 769.4L791.4 767.5M791.4 767.5L788.8 763.0L788.8 756.9L789.6 754.5M791.4 767.5L793.3 767.5L795.8 765.6L797.8 766.2M797.8 766.2L799.4 762.4L798.1 757.9L799.4 755.2M797.8 766.2L802.9 766.9L806.4 761.1L807.0 759.5M1087.3 658.2L1089.2 659.8L1086.8 662.6M1084.4 663.7L1086.6 663.0M1086.6 663.0L1086.3 665.2L1085.7 669.4L1084.1 676.3M1081.7 670.1L1083.7 676.4M1086.3 665.2L1089.8 666.6L1096.2 662.8M1096.2 662.8L1103.3 659.1L1104.2 651.8L1107.6 649.2M1096.2 662.8L1097.5 667.1M1097.5 667.1L1090.5 669.4L1093.7 672.9L1092.1 674.7L1087.6 677.5L1083.9 677.0M1097.5 667.1L1106.8 670.8L1115.1 677.5L1120.9 677.8M1120.9 677.8L1124.7 674.3L1126.9 674.9M1120.9 677.8L1124.7 679.7L1126.9 679.7M1115.4 649.0L1117.3 653.2L1119.3 656.5L1117.7 660.9L1119.6 664.4L1124.7 667.6L1124.7 671.2L1127.4 674.9M1109.0 720.7L1110.3 717.4L1117.0 717.4L1124.1 718.7L1129.2 712.4L1138.4 712.1M1138.4 712.1L1142.0 719.8M1138.4 712.1L1148.0 708.8L1150.0 702.1L1148.7 699.7M1148.7 699.7L1140.4 700.1L1137.2 694.5M1148.7 699.7L1150.9 695.0L1151.9 692.3L1152.0 689.9M1134.8 693.3L1136.2 693.3M1144.5 648.3L1152.8 645.1L1155.7 646.3L1161.8 647.4L1167.7 651.1M1167.7 651.1L1168.0 654.7L1166.4 658.7L1166.0 661.9L1169.8 669.8L1166.8 675.2M1166.8 675.2L1172.7 679.9L1174.3 684.4L1174.3 686.5L1169.2 691.3M1166.8 675.2L1177.2 676.8L1184.2 675.0L1185.2 670.5L1193.8 668.0L1194.4 664.1L1199.2 660.5L1200.8 656.9L1200.2 653.2L1204.0 650.0L1210.7 649.6M1167.7 651.1L1171.4 655.8L1176.2 653.6L1182.0 648.3L1184.8 648.5M1184.8 648.5L1189.0 648.8M1189.0 648.8L1194.4 648.8L1197.6 645.1L1200.2 644.4L1201.1 650.7L1206.6 648.8L1211.7 648.1M1211.7 648.1L1210.7 649.6M1184.8 648.5L1180.0 645.1L1175.9 641.0L1168.5 633.9L1164.4 631.6L1163.7 629.6L1158.9 628.9L1154.4 633.5L1151.2 633.5M1151.2 633.5L1146.4 630.8L1139.9 631.6M1151.2 633.5L1151.2 619.1L1159.6 616.7L1167.2 625.0L1179.7 625.0L1183.6 631.2L1189.6 633.9L1198.9 629.6M1189.0 648.8L1190.0 642.5L1187.7 640.3L1193.8 638.4L1198.3 635.4M1198.3 635.4L1201.5 633.1L1204.3 636.1L1201.5 637.7L1197.6 638.8L1198.3 635.4L1198.9 629.6M1197.6 638.8L1200.8 640.3L1207.5 641.0M1207.5 641.0L1211.4 644.0L1211.7 648.1M1207.5 641.0L1211.4 637.3L1221.0 634.6L1228.7 630.4M1198.9 629.6L1207.2 627.7L1210.4 626.2L1225.5 627.7L1228.7 630.4M1228.7 630.4L1230.6 626.2L1228.0 619.1L1236.0 617.9L1237.6 610.3L1245.6 611.1L1246.3 605.4L1251.4 602.5M1129.5 613.9L1122.8 607.1L1122.1 599.2L1127.9 597.1L1134.6 591.6L1146.8 596.3L1159.6 594.6L1168.5 595.4L1167.9 586.0L1167.2 581.2L1180.0 579.9L1192.8 575.5L1198.6 575.9L1206.9 582.1L1217.8 580.4L1227.7 594.6L1238.9 595.4L1249.1 600.5L1251.4 602.5M1251.4 602.5L1260.0 596.7L1268.3 595.9L1274.7 598.8L1283.4 598.8L1288.5 589.9L1299.0 592.9L1299.4 597.5L1311.8 597.5L1319.5 602.1L1337.7 599.2L1345.4 597.5L1345.4 599.6M1251.4 602.5L1262.9 611.5L1262.2 617.1L1277.3 621.5L1280.5 628.1L1297.8 628.5L1308.0 632.3L1322.4 628.9L1330.1 624.2L1330.1 618.7L1335.5 620.3L1345.1 611.9L1355.0 612.3L1353.1 608.3L1341.9 607.5L1345.4 599.6M1345.4 599.6L1348.9 600.5L1355.7 593.3L1358.9 584.7L1367.5 583.9L1374.2 586.5L1378.1 593.3L1380.0 600.5L1389.6 603.8L1391.2 608.3L1402.4 605.4L1400.8 611.1L1397.9 618.3L1392.8 619.1L1392.1 625.0L1390.0 629.1M1390.0 629.1L1387.7 626.9L1381.6 630.8L1381.9 633.1L1378.1 631.6L1375.2 635.0L1369.7 638.8M1375.7 647.0L1378.7 644.8L1382.7 643.7M1317.6 703.6L1314.4 703.1L1312.8 698.7L1309.0 697.7L1304.5 699.4L1298.9 700.4M1298.9 700.4L1297.4 704.8L1295.7 704.9M1295.7 704.9L1291.8 702.1L1288.5 698.0L1284.3 695.0L1287.8 690.9L1287.8 685.8L1283.7 681.0M1283.7 681.0L1279.8 677.1L1273.8 678.2L1266.4 682.3L1266.7 685.4M1266.7 685.4L1259.7 686.1L1257.1 686.0L1256.5 684.1L1258.7 680.6L1264.5 681.3L1266.7 685.4M1253.9 682.0L1247.2 681.0L1244.3 679.6L1238.9 677.1L1234.7 674.3L1231.2 674.0M1253.9 682.0L1253.9 687.2L1248.2 687.2L1240.8 683.7L1236.7 683.4L1229.3 679.2L1231.2 674.0M1231.2 674.0L1225.8 670.8L1224.2 665.9L1225.5 663.4L1224.2 659.1L1221.0 655.1M1221.0 655.1L1217.8 658.0L1209.8 658.0L1209.8 664.1L1213.3 666.6L1210.4 671.2L1206.9 675.0L1202.1 681.6L1197.9 682.0L1196.3 686.5L1198.3 689.6L1198.9 694.3L1192.5 694.3L1190.3 696.4M1221.0 655.1L1215.2 654.0L1214.3 650.7L1210.7 649.6M1257.0 703.3L1256.5 699.1L1255.9 694.3L1254.9 691.3L1254.9 687.2L1259.4 688.5L1259.4 690.9L1267.4 691.4L1266.7 694.0L1263.8 696.7L1265.1 698.7L1267.4 696.4L1268.3 702.1L1267.0 704.4M1267.0 704.4L1267.5 706.1M1268.3 702.1L1270.2 702.1L1273.1 695.3L1275.0 689.9L1279.5 684.4L1282.4 684.1L1283.7 681.0M1295.7 704.9L1292.3 707.6M1292.3 707.6L1285.6 710.1L1284.3 714.4L1287.2 719.0L1286.2 724.3L1289.1 728.5L1290.7 735.7L1288.0 741.5M1292.3 707.6L1295.8 710.4L1295.8 717.0L1298.7 714.7L1302.6 714.7L1307.0 717.4L1309.3 722.0L1308.6 727.4M1308.6 727.4L1302.2 727.2L1300.0 729.8L1300.0 733.1L1301.3 736.2M1308.6 727.4L1311.5 728.7L1316.0 726.2M1298.9 700.4L1302.2 705.4L1306.7 707.8L1304.8 710.1L1308.3 713.7L1310.2 716.4L1313.1 719.7L1316.0 723.3L1316.0 726.2M1316.0 726.2L1316.0 734.1L1310.9 736.3L1308.6 738.6L1306.2 740.2M1292.3 752.9L1293.3 752.1L1295.5 755.0L1298.7 753.6M1348.3 760.2L1342.5 759.8L1340.3 765.3L1338.7 769.1L1331.0 768.8L1325.9 770.7L1323.0 769.8L1322.7 766.9M1337.1 758.9L1339.0 760.5L1341.3 757.9M1423.2 781.9L1423.2 795.7L1423.2 802.8M1371.8 802.3L1371.8 803.8M943.6 631.2L946.2 631.2L951.0 631.6L950.0 634.6L949.7 637.7L948.1 639.5L949.7 642.2L949.4 645.1L948.4 648.8M966.3 625.6L969.9 626.9L974.3 628.1L977.5 628.9L982.2 629.1M996.1 623.8L994.5 622.3L993.5 618.7L994.2 615.5M994.2 615.5L991.6 613.5L996.1 609.1M994.2 615.5L999.0 615.1L1001.9 613.1L1004.4 613.9L1005.5 611.7M1005.5 611.7L1002.8 609.9L1002.8 608.9M996.1 609.1L999.6 608.3L1002.8 608.9M996.1 609.1L998.3 603.0L992.6 601.3M992.6 601.3L990.7 600.9L987.5 598.4L983.9 597.1L980.3 594.2M990.7 600.9L991.6 598.0L992.6 601.3M991.6 598.0L991.3 595.7M991.3 595.7L988.7 593.3L985.5 592.9L983.0 593.1M991.3 595.7L991.3 591.2L994.5 588.6L995.1 585.2M999.6 577.7L1002.5 578.2M1017.5 582.1L1017.5 586.9L1020.1 593.3L1019.4 595.0M1019.4 595.0L1011.1 597.5L1015.6 603.0L1016.2 604.6M1016.2 604.6L1013.7 606.2L1013.7 608.7L1007.3 609.1L1002.8 608.9M1005.5 611.7L1010.8 611.1L1011.8 612.7L1015.9 613.1M1015.9 613.1L1020.1 612.5L1023.6 611.6M1015.9 613.1L1016.2 616.7M1015.9 617.1L1020.7 617.1L1022.3 615.1L1024.9 613.1L1023.6 611.6M1023.6 611.6L1025.2 608.3L1026.8 607.1M1016.2 604.6L1020.1 603.0L1026.2 604.2L1026.8 607.1M1026.8 607.1L1026.2 604.2M1019.4 595.0L1024.6 597.5L1028.7 597.1L1032.2 600.9M1026.2 604.2L1029.7 603.0L1032.2 600.9M1032.2 600.9L1036.1 602.1L1039.6 601.3L1044.4 602.5M1026.8 607.1L1032.2 607.9L1036.1 606.6L1040.9 605.0L1042.8 605.4M1044.4 602.5L1042.8 605.4M1044.4 602.5L1047.9 597.1L1049.2 595.0L1047.6 592.5M1047.6 592.5L1048.6 587.3L1047.3 582.1M1047.3 582.1L1045.0 580.1M1045.0 580.1L1035.1 579.7M1045.0 580.1L1044.4 577.0L1040.2 575.9M1047.3 582.1L1053.7 581.7L1057.2 575.9L1057.2 574.4M1039.4 572.3L1048.9 571.0L1057.2 574.4M1057.2 574.4L1062.2 572.1M1062.2 572.1L1060.1 565.9M1050.0 564.2L1056.9 565.7L1060.1 565.9M1060.1 565.9L1060.1 559.4L1061.8 556.8M1061.0 551.6L1065.5 548.4L1072.9 540.0L1067.8 532.9L1067.8 523.5L1066.2 514.9L1063.3 508.3L1064.7 507.5M1064.7 507.5L1070.9 503.8M1064.7 507.5L1061.4 501.8L1054.6 507.5L1046.6 510.0L1038.0 507.5M1038.0 507.5L1045.0 511.1L1047.6 517.7L1049.4 525.1M1038.0 507.5L1030.0 511.1L1024.6 517.7L1018.5 524.1L1016.2 534.0L1010.8 538.0L1012.7 546.0L1011.1 547.9L1012.1 554.2L1008.6 558.5L1007.9 559.2M1062.2 572.1L1070.9 574.6L1071.3 578.2L1076.1 582.6L1073.8 589.1M1047.6 592.5L1054.6 590.8L1065.5 593.3L1071.3 589.9L1073.8 589.1M1073.8 589.1L1080.2 588.8L1084.4 593.8L1088.2 597.5L1093.7 599.2L1100.4 600.5L1099.7 605.8L1094.3 610.7M1042.8 605.4L1045.2 606.6M1045.2 606.6L1050.5 607.3L1052.4 608.1L1057.2 606.2M1057.2 606.2L1060.4 605.4L1065.5 607.5L1068.4 613.1L1064.6 613.5L1062.3 617.3M1057.2 606.2L1061.0 610.7L1062.3 617.3M1062.3 617.3L1067.1 618.3M1045.2 606.6L1041.2 611.1L1037.0 614.5M1037.0 614.5L1032.6 614.7M1032.6 614.7L1028.7 615.9L1025.2 613.5L1023.6 611.6M1037.0 614.5L1040.6 618.7L1040.9 620.3L1044.1 621.1L1044.7 622.3M1044.7 622.3L1047.3 624.2L1053.7 624.2L1059.1 622.6L1063.4 624.0M1044.7 622.3L1045.0 626.2L1043.8 629.4M1043.8 629.4L1045.7 633.3M1045.7 633.3L1050.5 632.7L1053.0 633.7L1056.4 631.9M1056.4 631.9L1059.4 630.4L1061.7 630.8M1056.4 631.9L1055.4 635.6M1045.7 633.3L1042.5 634.2L1039.3 635.0M1039.3 635.0L1038.0 637.3L1036.1 639.7M1039.3 635.0L1037.8 631.2M1037.8 631.2L1036.4 628.7L1035.1 628.5L1034.2 631.4M1043.8 629.4L1040.9 629.8L1037.8 631.2M1036.4 628.7L1037.0 626.2L1033.5 624.8M1033.5 624.8L1031.9 626.2L1031.1 628.7M1033.5 624.8L1033.5 621.9L1034.0 619.5M1034.0 619.5L1032.6 615.5L1032.6 614.7M1034.0 619.5L1029.7 618.3L1023.9 618.3L1023.3 621.9L1027.1 625.0L1028.4 626.9L1031.1 628.7M1087.7 650.1L1092.1 650.9L1096.9 650.7L1103.3 649.2L1107.6 649.2M1107.6 649.2L1111.3 648.5L1115.4 649.0M1115.4 649.0L1114.1 644.8L1113.0 640.7L1115.3 639.4M1115.3 639.4L1111.7 638.0L1111.1 634.2L1108.4 632.7L1105.0 632.7M1100.1 625.4L1107.7 626.2L1112.9 628.5L1118.3 628.9L1120.7 631.2M1120.7 631.2L1121.2 634.4L1116.4 633.5M1116.4 633.5L1111.1 634.2M1116.4 633.5L1118.0 636.1L1119.3 639.2L1120.9 642.5M1120.7 631.2L1125.0 633.9L1127.6 631.4M1120.9 642.5L1125.0 641.0L1125.7 639.5L1128.4 644.2M1115.3 639.4L1118.0 640.7L1119.6 642.5L1120.9 642.5" fill="none" stroke="#ffffff" stroke-width="0.9" stroke-opacity="0.85" stroke-linejoin="round"/><path d="M1074.1 776.5L1080.5 776.5L1081.2 778.7L1079.3 782.1L1074.5 782.1L1073.8 779.4ZM1322.7 574.1L1320.8 579.0L1316.3 584.3L1310.6 588.6L1304.5 592.1L1306.1 592.7L1312.2 589.5L1318.9 585.2L1323.7 579.9L1324.0 574.6Z" fill="#ffffff" fill-opacity="0.9" stroke="none"/>
</g></svg>
</body></html>
